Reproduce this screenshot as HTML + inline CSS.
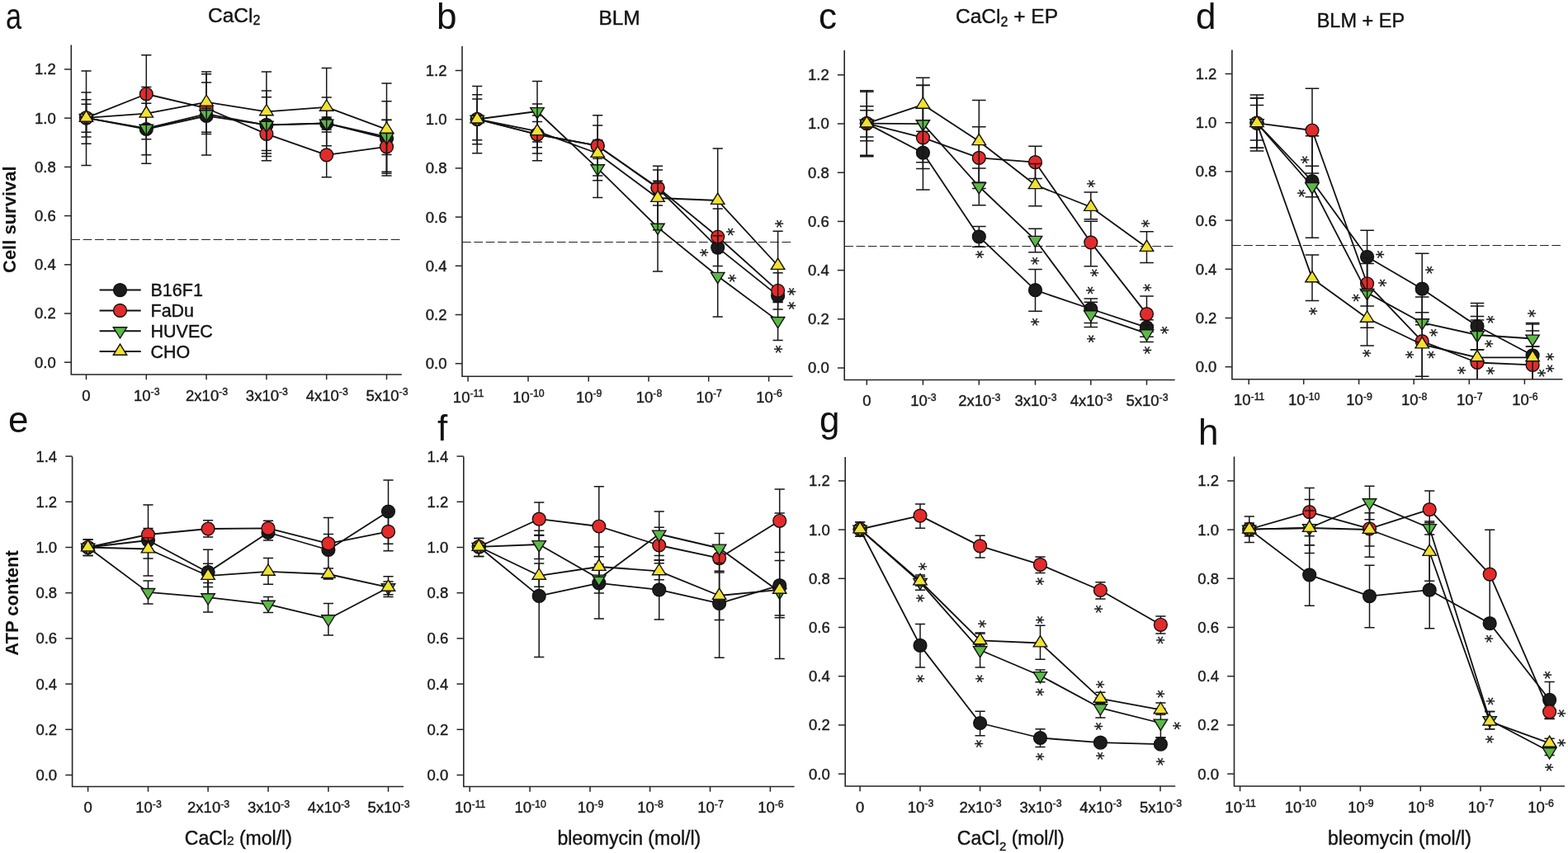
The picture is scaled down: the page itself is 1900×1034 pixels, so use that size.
<!DOCTYPE html><html><head><meta charset="utf-8"><style>html,body{margin:0;padding:0;background:#fff;}svg{display:block;}text.t{stroke:#1a1a1a;stroke-width:0.4px;}</style></head><body>
<svg width="1900" height="1034" viewBox="0 0 1900 1034" font-family="'Liberation Sans', Arial, Helvetica, sans-serif">
<rect width="1900" height="1034" fill="#fff"/>
<text transform="translate(7.1 34.5) scale(0.78 1)" font-size="44" fill="#111">a</text>
<text x="252" y="27" font-size="24.5" fill="#111" class="t">CaCl<tspan font-size="16" dy="2.6">2</tspan></text>
<path d="M86.3 54.5V454H486.8" stroke="#262626" stroke-width="1.6" fill="none"/>
<path d="M78 439.2H86.3" stroke="#262626" stroke-width="1.5"/>
<text x="67.8" y="445.6" font-size="18.5" text-anchor="end" fill="#1a1a1a" class="t">0.0</text>
<path d="M78 380H86.3" stroke="#262626" stroke-width="1.5"/>
<text x="67.8" y="386.4" font-size="18.5" text-anchor="end" fill="#1a1a1a" class="t">0.2</text>
<path d="M78 320.8H86.3" stroke="#262626" stroke-width="1.5"/>
<text x="67.8" y="327.2" font-size="18.5" text-anchor="end" fill="#1a1a1a" class="t">0.4</text>
<path d="M78 261.6H86.3" stroke="#262626" stroke-width="1.5"/>
<text x="67.8" y="268" font-size="18.5" text-anchor="end" fill="#1a1a1a" class="t">0.6</text>
<path d="M78 202.4H86.3" stroke="#262626" stroke-width="1.5"/>
<text x="67.8" y="208.8" font-size="18.5" text-anchor="end" fill="#1a1a1a" class="t">0.8</text>
<path d="M78 143.2H86.3" stroke="#262626" stroke-width="1.5"/>
<text x="67.8" y="149.6" font-size="18.5" text-anchor="end" fill="#1a1a1a" class="t">1.0</text>
<path d="M78 84H86.3" stroke="#262626" stroke-width="1.5"/>
<text x="67.8" y="90.4" font-size="18.5" text-anchor="end" fill="#1a1a1a" class="t">1.2</text>
<path d="M104.5 454V460.2" stroke="#262626" stroke-width="1.5"/>
<text x="104.5" y="485.5" font-size="18.5" text-anchor="middle" fill="#1a1a1a" class="t">0</text>
<path d="M177.3 454V460.2" stroke="#262626" stroke-width="1.5"/>
<text x="177.8" y="485.5" font-size="18.5" text-anchor="middle" fill="#1a1a1a" class="t">10<tspan font-size="12.3" dy="-6.4">-3</tspan></text>
<path d="M250.1 454V460.2" stroke="#262626" stroke-width="1.5"/>
<text x="250.6" y="485.5" font-size="18.5" text-anchor="middle" fill="#1a1a1a" class="t">2x10<tspan font-size="12.3" dy="-6.4">-3</tspan></text>
<path d="M322.9 454V460.2" stroke="#262626" stroke-width="1.5"/>
<text x="323.4" y="485.5" font-size="18.5" text-anchor="middle" fill="#1a1a1a" class="t">3x10<tspan font-size="12.3" dy="-6.4">-3</tspan></text>
<path d="M395.7 454V460.2" stroke="#262626" stroke-width="1.5"/>
<text x="396.2" y="485.5" font-size="18.5" text-anchor="middle" fill="#1a1a1a" class="t">4x10<tspan font-size="12.3" dy="-6.4">-3</tspan></text>
<path d="M468.5 454V460.2" stroke="#262626" stroke-width="1.5"/>
<text x="469" y="485.5" font-size="18.5" text-anchor="middle" fill="#1a1a1a" class="t">5x10<tspan font-size="12.3" dy="-6.4">-3</tspan></text>
<path d="M86.3 290.5H486.8" stroke="#222" stroke-width="1.2" stroke-dasharray="10.7 3.65"/>
<clipPath id="clip0"><rect x="86.3" y="0" width="420.5" height="454"/></clipPath>
<g clip-path="url(#clip0)">
<path d="M104.5 86V200.4M98.4 86H110.6M98.4 200.4H110.6" stroke="#161616" stroke-width="1.5" fill="none"/>
<path d="M177.3 114.8V198.2M171.2 114.8H183.4M171.2 198.2H183.4" stroke="#161616" stroke-width="1.5" fill="none"/>
<path d="M250.1 89.7V188M244 89.7H256.2M244 188H256.2" stroke="#161616" stroke-width="1.5" fill="none"/>
<path d="M322.9 117.7V186.1M316.8 117.7H329M316.8 186.1H329" stroke="#161616" stroke-width="1.5" fill="none"/>
<path d="M395.7 142V157M389.6 142H401.8M389.6 157H401.8" stroke="#161616" stroke-width="1.5" fill="none"/>
<path d="M468.5 122.7V213M462.4 122.7H474.6M462.4 213H474.6" stroke="#161616" stroke-width="1.5" fill="none"/>
<path d="M104.5 142.8 L177.3 156.5 L250.1 140.5 L322.9 151.3 L395.7 149.5 L468.5 168" stroke="#111" stroke-width="1.8" fill="none" stroke-linejoin="round"/>
<circle cx="104.5" cy="142.8" r="7.9" fill="#1c1c1c" stroke="#111" stroke-width="1.4"/>
<circle cx="177.3" cy="156.5" r="7.9" fill="#1c1c1c" stroke="#111" stroke-width="1.4"/>
<circle cx="250.1" cy="140.5" r="7.9" fill="#1c1c1c" stroke="#111" stroke-width="1.4"/>
<circle cx="322.9" cy="151.3" r="7.9" fill="#1c1c1c" stroke="#111" stroke-width="1.4"/>
<circle cx="395.7" cy="149.5" r="7.9" fill="#1c1c1c" stroke="#111" stroke-width="1.4"/>
<circle cx="468.5" cy="168" r="7.9" fill="#1c1c1c" stroke="#111" stroke-width="1.4"/>
<path d="M104.5 111.9V174.2M98.4 111.9H110.6M98.4 174.2H110.6" stroke="#161616" stroke-width="1.5" fill="none"/>
<path d="M177.3 66.7V161.3M171.2 66.7H183.4M171.2 161.3H183.4" stroke="#161616" stroke-width="1.5" fill="none"/>
<path d="M250.1 100V162.6M244 100H256.2M244 162.6H256.2" stroke="#161616" stroke-width="1.5" fill="none"/>
<path d="M322.9 135V189.6M316.8 135H329M316.8 189.6H329" stroke="#161616" stroke-width="1.5" fill="none"/>
<path d="M395.7 160.1V214.8M389.6 160.1H401.8M389.6 214.8H401.8" stroke="#161616" stroke-width="1.5" fill="none"/>
<path d="M468.5 145.5V210.3M462.4 145.5H474.6M462.4 210.3H474.6" stroke="#161616" stroke-width="1.5" fill="none"/>
<path d="M104.5 142.8 L177.3 114 L250.1 131.2 L322.9 162.3 L395.7 187.9 L468.5 177.9" stroke="#111" stroke-width="1.8" fill="none" stroke-linejoin="round"/>
<circle cx="104.5" cy="142.8" r="7.9" fill="#e32b2b" stroke="#111" stroke-width="1.4"/>
<circle cx="177.3" cy="114" r="7.9" fill="#e32b2b" stroke="#111" stroke-width="1.4"/>
<circle cx="250.1" cy="131.2" r="7.9" fill="#e32b2b" stroke="#111" stroke-width="1.4"/>
<circle cx="322.9" cy="162.3" r="7.9" fill="#e32b2b" stroke="#111" stroke-width="1.4"/>
<circle cx="395.7" cy="187.9" r="7.9" fill="#e32b2b" stroke="#111" stroke-width="1.4"/>
<circle cx="468.5" cy="177.9" r="7.9" fill="#e32b2b" stroke="#111" stroke-width="1.4"/>
<path d="M104.5 120.7V166M98.4 120.7H110.6M98.4 166H110.6" stroke="#161616" stroke-width="1.5" fill="none"/>
<path d="M177.3 125.3V187.7M171.2 125.3H183.4M171.2 187.7H183.4" stroke="#161616" stroke-width="1.5" fill="none"/>
<path d="M250.1 131.2V145.2M244 131.2H256.2M244 145.2H256.2" stroke="#161616" stroke-width="1.5" fill="none"/>
<path d="M322.9 109.9V194.8M316.8 109.9H329M316.8 194.8H329" stroke="#161616" stroke-width="1.5" fill="none"/>
<path d="M395.7 118V150M389.6 118H401.8M389.6 150H401.8" stroke="#161616" stroke-width="1.5" fill="none"/>
<path d="M468.5 145.3V187.6M462.4 145.3H474.6M462.4 187.6H474.6" stroke="#161616" stroke-width="1.5" fill="none"/>
<path d="M104.5 142.8 L177.3 155.7 L250.1 138.2 L322.9 151.6 L395.7 149.5 L468.5 166" stroke="#111" stroke-width="1.8" fill="none" stroke-linejoin="round"/>
<polygon points="96.3,138.4 112.7,138.4 104.5,151.6" fill="#5cb946" stroke="#111" stroke-width="1.4" stroke-linejoin="miter"/>
<polygon points="169.1,151.3 185.5,151.3 177.3,164.5" fill="#5cb946" stroke="#111" stroke-width="1.4" stroke-linejoin="miter"/>
<polygon points="241.9,133.8 258.3,133.8 250.1,147" fill="#5cb946" stroke="#111" stroke-width="1.4" stroke-linejoin="miter"/>
<polygon points="314.7,147.2 331.1,147.2 322.9,160.4" fill="#5cb946" stroke="#111" stroke-width="1.4" stroke-linejoin="miter"/>
<polygon points="387.5,145.1 403.9,145.1 395.7,158.3" fill="#5cb946" stroke="#111" stroke-width="1.4" stroke-linejoin="miter"/>
<polygon points="460.3,161.6 476.7,161.6 468.5,174.8" fill="#5cb946" stroke="#111" stroke-width="1.4" stroke-linejoin="miter"/>
<path d="M104.5 126.3V160.3M98.4 126.3H110.6M98.4 160.3H110.6" stroke="#161616" stroke-width="1.5" fill="none"/>
<path d="M177.3 105.6V168.8M171.2 105.6H183.4M171.2 168.8H183.4" stroke="#161616" stroke-width="1.5" fill="none"/>
<path d="M250.1 87.1V160.2M244 87.1H256.2M244 160.2H256.2" stroke="#161616" stroke-width="1.5" fill="none"/>
<path d="M322.9 87V182.6M316.8 87H329M316.8 182.6H329" stroke="#161616" stroke-width="1.5" fill="none"/>
<path d="M395.7 82.4V176.8M389.6 82.4H401.8M389.6 176.8H401.8" stroke="#161616" stroke-width="1.5" fill="none"/>
<path d="M468.5 101V208.3M462.4 101H474.6M462.4 208.3H474.6" stroke="#161616" stroke-width="1.5" fill="none"/>
<path d="M104.5 142.8 L177.3 137.7 L250.1 123.8 L322.9 135.3 L395.7 129.8 L468.5 156.8" stroke="#111" stroke-width="1.8" fill="none" stroke-linejoin="round"/>
<polygon points="96.3,147.2 112.7,147.2 104.5,134" fill="#f2e22f" stroke="#111" stroke-width="1.4" stroke-linejoin="miter"/>
<polygon points="169.1,142.1 185.5,142.1 177.3,128.9" fill="#f2e22f" stroke="#111" stroke-width="1.4" stroke-linejoin="miter"/>
<polygon points="241.9,128.2 258.3,128.2 250.1,115" fill="#f2e22f" stroke="#111" stroke-width="1.4" stroke-linejoin="miter"/>
<polygon points="314.7,139.7 331.1,139.7 322.9,126.5" fill="#f2e22f" stroke="#111" stroke-width="1.4" stroke-linejoin="miter"/>
<polygon points="387.5,134.2 403.9,134.2 395.7,121" fill="#f2e22f" stroke="#111" stroke-width="1.4" stroke-linejoin="miter"/>
<polygon points="460.3,161.2 476.7,161.2 468.5,148" fill="#f2e22f" stroke="#111" stroke-width="1.4" stroke-linejoin="miter"/>
</g>
<text x="529" y="34.5" font-size="44" fill="#111">b</text>
<text x="725.4" y="29.6" font-size="24.5" fill="#111" class="t">BLM</text>
<path d="M560 56V456.3H960.5" stroke="#262626" stroke-width="1.6" fill="none"/>
<path d="M551.7 440.7H560" stroke="#262626" stroke-width="1.5"/>
<text x="541.5" y="447.1" font-size="18.5" text-anchor="end" fill="#1a1a1a" class="t">0.0</text>
<path d="M551.7 381.5H560" stroke="#262626" stroke-width="1.5"/>
<text x="541.5" y="387.9" font-size="18.5" text-anchor="end" fill="#1a1a1a" class="t">0.2</text>
<path d="M551.7 322.3H560" stroke="#262626" stroke-width="1.5"/>
<text x="541.5" y="328.7" font-size="18.5" text-anchor="end" fill="#1a1a1a" class="t">0.4</text>
<path d="M551.7 263.1H560" stroke="#262626" stroke-width="1.5"/>
<text x="541.5" y="269.5" font-size="18.5" text-anchor="end" fill="#1a1a1a" class="t">0.6</text>
<path d="M551.7 203.9H560" stroke="#262626" stroke-width="1.5"/>
<text x="541.5" y="210.3" font-size="18.5" text-anchor="end" fill="#1a1a1a" class="t">0.8</text>
<path d="M551.7 144.7H560" stroke="#262626" stroke-width="1.5"/>
<text x="541.5" y="151.1" font-size="18.5" text-anchor="end" fill="#1a1a1a" class="t">1.0</text>
<path d="M551.7 85.5H560" stroke="#262626" stroke-width="1.5"/>
<text x="541.5" y="91.9" font-size="18.5" text-anchor="end" fill="#1a1a1a" class="t">1.2</text>
<path d="M567.1 456.3V462.5" stroke="#262626" stroke-width="1.5"/>
<text x="567.6" y="487.8" font-size="18.5" text-anchor="middle" fill="#1a1a1a" class="t">10<tspan font-size="12.3" dy="-6.4">-11</tspan></text>
<path d="M640 456.3V462.5" stroke="#262626" stroke-width="1.5"/>
<text x="640.5" y="487.8" font-size="18.5" text-anchor="middle" fill="#1a1a1a" class="t">10<tspan font-size="12.3" dy="-6.4">-10</tspan></text>
<path d="M713.2 456.3V462.5" stroke="#262626" stroke-width="1.5"/>
<text x="713.7" y="487.8" font-size="18.5" text-anchor="middle" fill="#1a1a1a" class="t">10<tspan font-size="12.3" dy="-6.4">-9</tspan></text>
<path d="M786 456.3V462.5" stroke="#262626" stroke-width="1.5"/>
<text x="786.5" y="487.8" font-size="18.5" text-anchor="middle" fill="#1a1a1a" class="t">10<tspan font-size="12.3" dy="-6.4">-8</tspan></text>
<path d="M858.7 456.3V462.5" stroke="#262626" stroke-width="1.5"/>
<text x="859.2" y="487.8" font-size="18.5" text-anchor="middle" fill="#1a1a1a" class="t">10<tspan font-size="12.3" dy="-6.4">-7</tspan></text>
<path d="M931.6 456.3V462.5" stroke="#262626" stroke-width="1.5"/>
<text x="932.1" y="487.8" font-size="18.5" text-anchor="middle" fill="#1a1a1a" class="t">10<tspan font-size="12.3" dy="-6.4">-6</tspan></text>
<path d="M560 293.5H960.5" stroke="#222" stroke-width="1.2" stroke-dasharray="10.7 3.65"/>
<clipPath id="clip1"><rect x="560" y="0" width="420.5" height="456.3"/></clipPath>
<g clip-path="url(#clip1)">
<path d="M578.2 104.4V185.7M572.1 104.4H584.3M572.1 185.7H584.3" stroke="#161616" stroke-width="1.5" fill="none"/>
<path d="M651 147.6V178.7M644.9 147.6H657.1M644.9 178.7H657.1" stroke="#161616" stroke-width="1.5" fill="none"/>
<path d="M724.2 139.8V213.1M718.1 139.8H730.3M718.1 213.1H730.3" stroke="#161616" stroke-width="1.5" fill="none"/>
<path d="M797 206V249M790.9 206H803.1M790.9 249H803.1" stroke="#161616" stroke-width="1.5" fill="none"/>
<path d="M869.7 295V305M863.6 295H875.8M863.6 305H875.8" stroke="#161616" stroke-width="1.5" fill="none"/>
<path d="M942.6 352V366M936.5 352H948.7M936.5 366H948.7" stroke="#161616" stroke-width="1.5" fill="none"/>
<path d="M578.2 144.5 L651 162.8 L724.2 176.7 L797 228 L869.7 300.1 L942.6 358.4" stroke="#111" stroke-width="1.8" fill="none" stroke-linejoin="round"/>
<circle cx="578.2" cy="144.5" r="7.9" fill="#1c1c1c" stroke="#111" stroke-width="1.4"/>
<circle cx="651" cy="162.8" r="7.9" fill="#1c1c1c" stroke="#111" stroke-width="1.4"/>
<circle cx="724.2" cy="176.7" r="7.9" fill="#1c1c1c" stroke="#111" stroke-width="1.4"/>
<circle cx="797" cy="228" r="7.9" fill="#1c1c1c" stroke="#111" stroke-width="1.4"/>
<circle cx="869.7" cy="300.1" r="7.9" fill="#1c1c1c" stroke="#111" stroke-width="1.4"/>
<circle cx="942.6" cy="358.4" r="7.9" fill="#1c1c1c" stroke="#111" stroke-width="1.4"/>
<path d="M578.2 114.8V174.7M572.1 114.8H584.3M572.1 174.7H584.3" stroke="#161616" stroke-width="1.5" fill="none"/>
<path d="M651 140V186M644.9 140H657.1M644.9 186H657.1" stroke="#161616" stroke-width="1.5" fill="none"/>
<path d="M724.2 172V192.2M718.1 172H730.3M718.1 192.2H730.3" stroke="#161616" stroke-width="1.5" fill="none"/>
<path d="M797 219.3V235.3M790.9 219.3H803.1M790.9 235.3H803.1" stroke="#161616" stroke-width="1.5" fill="none"/>
<path d="M869.7 252.9V322.4M863.6 252.9H875.8M863.6 322.4H875.8" stroke="#161616" stroke-width="1.5" fill="none"/>
<path d="M942.6 330.8V375M936.5 330.8H948.7M936.5 375H948.7" stroke="#161616" stroke-width="1.5" fill="none"/>
<path d="M578.2 144.5 L651 163 L724.2 176.7 L797 227.3 L869.7 287 L942.6 352.3" stroke="#111" stroke-width="1.8" fill="none" stroke-linejoin="round"/>
<circle cx="578.2" cy="144.5" r="7.9" fill="#e32b2b" stroke="#111" stroke-width="1.4"/>
<circle cx="651" cy="163" r="7.9" fill="#e32b2b" stroke="#111" stroke-width="1.4"/>
<circle cx="724.2" cy="176.7" r="7.9" fill="#e32b2b" stroke="#111" stroke-width="1.4"/>
<circle cx="797" cy="227.3" r="7.9" fill="#e32b2b" stroke="#111" stroke-width="1.4"/>
<circle cx="869.7" cy="287" r="7.9" fill="#e32b2b" stroke="#111" stroke-width="1.4"/>
<circle cx="942.6" cy="352.3" r="7.9" fill="#e32b2b" stroke="#111" stroke-width="1.4"/>
<path d="M578.2 119.9V169.7M572.1 119.9H584.3M572.1 169.7H584.3" stroke="#161616" stroke-width="1.5" fill="none"/>
<path d="M651 98.5V172M644.9 98.5H657.1M644.9 172H657.1" stroke="#161616" stroke-width="1.5" fill="none"/>
<path d="M724.2 169.7V239.4M718.1 169.7H730.3M718.1 239.4H730.3" stroke="#161616" stroke-width="1.5" fill="none"/>
<path d="M797 222V329M790.9 222H803.1M790.9 329H803.1" stroke="#161616" stroke-width="1.5" fill="none"/>
<path d="M869.7 285.8V384.1M863.6 285.8H875.8M863.6 384.1H875.8" stroke="#161616" stroke-width="1.5" fill="none"/>
<path d="M942.6 366.5V412.5M936.5 366.5H948.7M936.5 412.5H948.7" stroke="#161616" stroke-width="1.5" fill="none"/>
<path d="M578.2 144.5 L651 135 L724.2 204.2 L797 275.6 L869.7 334.8 L942.6 388.9" stroke="#111" stroke-width="1.8" fill="none" stroke-linejoin="round"/>
<polygon points="570,140.1 586.4,140.1 578.2,153.3" fill="#5cb946" stroke="#111" stroke-width="1.4" stroke-linejoin="miter"/>
<polygon points="642.8,130.6 659.2,130.6 651,143.8" fill="#5cb946" stroke="#111" stroke-width="1.4" stroke-linejoin="miter"/>
<polygon points="716,199.8 732.4,199.8 724.2,213" fill="#5cb946" stroke="#111" stroke-width="1.4" stroke-linejoin="miter"/>
<polygon points="788.8,271.2 805.2,271.2 797,284.4" fill="#5cb946" stroke="#111" stroke-width="1.4" stroke-linejoin="miter"/>
<polygon points="861.5,330.4 877.9,330.4 869.7,343.6" fill="#5cb946" stroke="#111" stroke-width="1.4" stroke-linejoin="miter"/>
<polygon points="934.4,384.5 950.8,384.5 942.6,397.7" fill="#5cb946" stroke="#111" stroke-width="1.4" stroke-linejoin="miter"/>
<path d="M578.2 140V149M572.1 140H584.3M572.1 149H584.3" stroke="#161616" stroke-width="1.5" fill="none"/>
<path d="M651 126.1V194.8M644.9 126.1H657.1M644.9 194.8H657.1" stroke="#161616" stroke-width="1.5" fill="none"/>
<path d="M724.2 151.9V218.8M718.1 151.9H730.3M718.1 218.8H730.3" stroke="#161616" stroke-width="1.5" fill="none"/>
<path d="M797 201.3V278.7M790.9 201.3H803.1M790.9 278.7H803.1" stroke="#161616" stroke-width="1.5" fill="none"/>
<path d="M869.7 180.1V305.9M863.6 180.1H875.8M863.6 305.9H875.8" stroke="#161616" stroke-width="1.5" fill="none"/>
<path d="M942.6 280.3V363.7M936.5 280.3H948.7M936.5 363.7H948.7" stroke="#161616" stroke-width="1.5" fill="none"/>
<path d="M578.2 144.5 L651 159.2 L724.2 186 L797 240 L869.7 243 L942.6 322" stroke="#111" stroke-width="1.8" fill="none" stroke-linejoin="round"/>
<polygon points="570,148.9 586.4,148.9 578.2,135.7" fill="#f2e22f" stroke="#111" stroke-width="1.4" stroke-linejoin="miter"/>
<polygon points="642.8,163.6 659.2,163.6 651,150.4" fill="#f2e22f" stroke="#111" stroke-width="1.4" stroke-linejoin="miter"/>
<polygon points="716,190.4 732.4,190.4 724.2,177.2" fill="#f2e22f" stroke="#111" stroke-width="1.4" stroke-linejoin="miter"/>
<polygon points="788.8,244.4 805.2,244.4 797,231.2" fill="#f2e22f" stroke="#111" stroke-width="1.4" stroke-linejoin="miter"/>
<polygon points="861.5,247.4 877.9,247.4 869.7,234.2" fill="#f2e22f" stroke="#111" stroke-width="1.4" stroke-linejoin="miter"/>
<polygon points="934.4,326.4 950.8,326.4 942.6,313.2" fill="#f2e22f" stroke="#111" stroke-width="1.4" stroke-linejoin="miter"/>
</g>
<text transform="translate(885 281) scale(1.1 0.96) rotate(90)" y="10.25" font-size="20" font-family="DejaVu Sans" text-anchor="middle" fill="#1a1a1a" stroke="#1a1a1a" stroke-width="0.35">*</text>
<text transform="translate(853.3 306.2) scale(1.1 0.96) rotate(90)" y="10.25" font-size="20" font-family="DejaVu Sans" text-anchor="middle" fill="#1a1a1a" stroke="#1a1a1a" stroke-width="0.35">*</text>
<text transform="translate(887.4 337.4) scale(1.1 0.96) rotate(90)" y="10.25" font-size="20" font-family="DejaVu Sans" text-anchor="middle" fill="#1a1a1a" stroke="#1a1a1a" stroke-width="0.35">*</text>
<text transform="translate(944.1 271.4) scale(1.1 0.96) rotate(90)" y="10.25" font-size="20" font-family="DejaVu Sans" text-anchor="middle" fill="#1a1a1a" stroke="#1a1a1a" stroke-width="0.35">*</text>
<text transform="translate(959.2 353.6) scale(1.1 0.96) rotate(90)" y="10.25" font-size="20" font-family="DejaVu Sans" text-anchor="middle" fill="#1a1a1a" stroke="#1a1a1a" stroke-width="0.35">*</text>
<text transform="translate(959.2 370.6) scale(1.1 0.96) rotate(90)" y="10.25" font-size="20" font-family="DejaVu Sans" text-anchor="middle" fill="#1a1a1a" stroke="#1a1a1a" stroke-width="0.35">*</text>
<text transform="translate(943.6 423.4) scale(1.1 0.96) rotate(90)" y="10.25" font-size="20" font-family="DejaVu Sans" text-anchor="middle" fill="#1a1a1a" stroke="#1a1a1a" stroke-width="0.35">*</text>
<text x="992" y="34.5" font-size="44" fill="#111">c</text>
<text x="1158" y="27.6" font-size="24.5" fill="#111" class="t">CaCl<tspan font-size="16" dy="4">2</tspan><tspan dy="-4"> + EP</tspan></text>
<path d="M1023.2 61V460.5H1423.7" stroke="#262626" stroke-width="1.6" fill="none"/>
<path d="M1014.9 446H1023.2" stroke="#262626" stroke-width="1.5"/>
<text x="1004.7" y="452.4" font-size="18.5" text-anchor="end" fill="#1a1a1a" class="t">0.0</text>
<path d="M1014.9 386.8H1023.2" stroke="#262626" stroke-width="1.5"/>
<text x="1004.7" y="393.2" font-size="18.5" text-anchor="end" fill="#1a1a1a" class="t">0.2</text>
<path d="M1014.9 327.6H1023.2" stroke="#262626" stroke-width="1.5"/>
<text x="1004.7" y="334" font-size="18.5" text-anchor="end" fill="#1a1a1a" class="t">0.4</text>
<path d="M1014.9 268.4H1023.2" stroke="#262626" stroke-width="1.5"/>
<text x="1004.7" y="274.8" font-size="18.5" text-anchor="end" fill="#1a1a1a" class="t">0.6</text>
<path d="M1014.9 209.2H1023.2" stroke="#262626" stroke-width="1.5"/>
<text x="1004.7" y="215.6" font-size="18.5" text-anchor="end" fill="#1a1a1a" class="t">0.8</text>
<path d="M1014.9 150H1023.2" stroke="#262626" stroke-width="1.5"/>
<text x="1004.7" y="156.4" font-size="18.5" text-anchor="end" fill="#1a1a1a" class="t">1.0</text>
<path d="M1014.9 90.8H1023.2" stroke="#262626" stroke-width="1.5"/>
<text x="1004.7" y="97.2" font-size="18.5" text-anchor="end" fill="#1a1a1a" class="t">1.2</text>
<path d="M1050.3 460.5V466.7" stroke="#262626" stroke-width="1.5"/>
<text x="1050.3" y="492" font-size="18.5" text-anchor="middle" fill="#1a1a1a" class="t">0</text>
<path d="M1118.4 460.5V466.7" stroke="#262626" stroke-width="1.5"/>
<text x="1118.9" y="492" font-size="18.5" text-anchor="middle" fill="#1a1a1a" class="t">10<tspan font-size="12.3" dy="-6.4">-3</tspan></text>
<path d="M1186.3 460.5V466.7" stroke="#262626" stroke-width="1.5"/>
<text x="1186.8" y="492" font-size="18.5" text-anchor="middle" fill="#1a1a1a" class="t">2x10<tspan font-size="12.3" dy="-6.4">-3</tspan></text>
<path d="M1254.5 460.5V466.7" stroke="#262626" stroke-width="1.5"/>
<text x="1255" y="492" font-size="18.5" text-anchor="middle" fill="#1a1a1a" class="t">3x10<tspan font-size="12.3" dy="-6.4">-3</tspan></text>
<path d="M1321.8 460.5V466.7" stroke="#262626" stroke-width="1.5"/>
<text x="1322.3" y="492" font-size="18.5" text-anchor="middle" fill="#1a1a1a" class="t">4x10<tspan font-size="12.3" dy="-6.4">-3</tspan></text>
<path d="M1389.5 460.5V466.7" stroke="#262626" stroke-width="1.5"/>
<text x="1390" y="492" font-size="18.5" text-anchor="middle" fill="#1a1a1a" class="t">5x10<tspan font-size="12.3" dy="-6.4">-3</tspan></text>
<path d="M1023.2 298.5H1423.7" stroke="#222" stroke-width="1.2" stroke-dasharray="10.7 3.65"/>
<clipPath id="clip2"><rect x="1023.2" y="0" width="420.5" height="460.5"/></clipPath>
<g clip-path="url(#clip2)">
<path d="M1050.3 109.8V189.8M1042 109.8H1058.6M1042 189.8H1058.6" stroke="#161616" stroke-width="1.5" fill="none"/>
<path d="M1118.4 165.8V204.6M1110.1 165.8H1126.7M1110.1 204.6H1126.7" stroke="#161616" stroke-width="1.5" fill="none"/>
<path d="M1186.3 274.6V299.3M1178 274.6H1194.6M1178 299.3H1194.6" stroke="#161616" stroke-width="1.5" fill="none"/>
<path d="M1254.5 326.4V377.2M1246.2 326.4H1262.8M1246.2 377.2H1262.8" stroke="#161616" stroke-width="1.5" fill="none"/>
<path d="M1321.8 362V391.4M1313.5 362H1330.1M1313.5 391.4H1330.1" stroke="#161616" stroke-width="1.5" fill="none"/>
<path d="M1389.5 387.7V408.3M1381.2 387.7H1397.8M1381.2 408.3H1397.8" stroke="#161616" stroke-width="1.5" fill="none"/>
<path d="M1050.3 149.6 L1118.4 185.2 L1186.3 286.9 L1254.5 351.7 L1321.8 374.5 L1389.5 396.8" stroke="#111" stroke-width="1.8" fill="none" stroke-linejoin="round"/>
<circle cx="1050.3" cy="149.6" r="7.9" fill="#1c1c1c" stroke="#111" stroke-width="1.4"/>
<circle cx="1118.4" cy="185.2" r="7.9" fill="#1c1c1c" stroke="#111" stroke-width="1.4"/>
<circle cx="1186.3" cy="286.9" r="7.9" fill="#1c1c1c" stroke="#111" stroke-width="1.4"/>
<circle cx="1254.5" cy="351.7" r="7.9" fill="#1c1c1c" stroke="#111" stroke-width="1.4"/>
<circle cx="1321.8" cy="374.5" r="7.9" fill="#1c1c1c" stroke="#111" stroke-width="1.4"/>
<circle cx="1389.5" cy="396.8" r="7.9" fill="#1c1c1c" stroke="#111" stroke-width="1.4"/>
<path d="M1050.3 111.3V188.3M1042 111.3H1058.6M1042 188.3H1058.6" stroke="#161616" stroke-width="1.5" fill="none"/>
<path d="M1118.4 103.5V230.1M1110.1 103.5H1126.7M1110.1 230.1H1126.7" stroke="#161616" stroke-width="1.5" fill="none"/>
<path d="M1186.3 153.8V228.5M1178 153.8H1194.6M1178 228.5H1194.6" stroke="#161616" stroke-width="1.5" fill="none"/>
<path d="M1254.5 177.3V216.5M1246.2 177.3H1262.8M1246.2 216.5H1262.8" stroke="#161616" stroke-width="1.5" fill="none"/>
<path d="M1321.8 268.2V322.7M1313.5 268.2H1330.1M1313.5 322.7H1330.1" stroke="#161616" stroke-width="1.5" fill="none"/>
<path d="M1389.5 358.9V402.3M1381.2 358.9H1397.8M1381.2 402.3H1397.8" stroke="#161616" stroke-width="1.5" fill="none"/>
<path d="M1050.3 149.6 L1118.4 166.9 L1186.3 191.4 L1254.5 196.7 L1321.8 293.9 L1389.5 380.6" stroke="#111" stroke-width="1.8" fill="none" stroke-linejoin="round"/>
<circle cx="1050.3" cy="149.6" r="7.9" fill="#e32b2b" stroke="#111" stroke-width="1.4"/>
<circle cx="1118.4" cy="166.9" r="7.9" fill="#e32b2b" stroke="#111" stroke-width="1.4"/>
<circle cx="1186.3" cy="191.4" r="7.9" fill="#e32b2b" stroke="#111" stroke-width="1.4"/>
<circle cx="1254.5" cy="196.7" r="7.9" fill="#e32b2b" stroke="#111" stroke-width="1.4"/>
<circle cx="1321.8" cy="293.9" r="7.9" fill="#e32b2b" stroke="#111" stroke-width="1.4"/>
<circle cx="1389.5" cy="380.6" r="7.9" fill="#e32b2b" stroke="#111" stroke-width="1.4"/>
<path d="M1050.3 128.7V170.8M1042 128.7H1058.6M1042 170.8H1058.6" stroke="#161616" stroke-width="1.5" fill="none"/>
<path d="M1118.4 103.2V196.8M1110.1 103.2H1126.7M1110.1 196.8H1126.7" stroke="#161616" stroke-width="1.5" fill="none"/>
<path d="M1186.3 204.1V248.7M1178 204.1H1194.6M1178 248.7H1194.6" stroke="#161616" stroke-width="1.5" fill="none"/>
<path d="M1254.5 277.2V305.7M1246.2 277.2H1262.8M1246.2 305.7H1262.8" stroke="#161616" stroke-width="1.5" fill="none"/>
<path d="M1321.8 366.3V396.4M1313.5 366.3H1330.1M1313.5 396.4H1330.1" stroke="#161616" stroke-width="1.5" fill="none"/>
<path d="M1389.5 394V414.4M1381.2 394H1397.8M1381.2 414.4H1397.8" stroke="#161616" stroke-width="1.5" fill="none"/>
<path d="M1050.3 149.6 L1118.4 150.1 L1186.3 226 L1254.5 290.8 L1321.8 381.2 L1389.5 404.2" stroke="#111" stroke-width="1.8" fill="none" stroke-linejoin="round"/>
<polygon points="1042.1,145.2 1058.5,145.2 1050.3,158.4" fill="#5cb946" stroke="#111" stroke-width="1.4" stroke-linejoin="miter"/>
<polygon points="1110.2,145.7 1126.6,145.7 1118.4,158.9" fill="#5cb946" stroke="#111" stroke-width="1.4" stroke-linejoin="miter"/>
<polygon points="1178.1,221.6 1194.5,221.6 1186.3,234.8" fill="#5cb946" stroke="#111" stroke-width="1.4" stroke-linejoin="miter"/>
<polygon points="1246.3,286.4 1262.7,286.4 1254.5,299.6" fill="#5cb946" stroke="#111" stroke-width="1.4" stroke-linejoin="miter"/>
<polygon points="1313.6,376.8 1330,376.8 1321.8,390" fill="#5cb946" stroke="#111" stroke-width="1.4" stroke-linejoin="miter"/>
<polygon points="1381.3,399.8 1397.7,399.8 1389.5,413" fill="#5cb946" stroke="#111" stroke-width="1.4" stroke-linejoin="miter"/>
<path d="M1050.3 133.8V165.9M1042 133.8H1058.6M1042 165.9H1058.6" stroke="#161616" stroke-width="1.5" fill="none"/>
<path d="M1118.4 94.3V159.3M1110.1 94.3H1126.7M1110.1 159.3H1126.7" stroke="#161616" stroke-width="1.5" fill="none"/>
<path d="M1186.3 121.4V221M1178 121.4H1194.6M1178 221H1194.6" stroke="#161616" stroke-width="1.5" fill="none"/>
<path d="M1254.5 198.6V249.8M1246.2 198.6H1262.8M1246.2 249.8H1262.8" stroke="#161616" stroke-width="1.5" fill="none"/>
<path d="M1321.8 233.1V265.8M1313.5 233.1H1330.1M1313.5 265.8H1330.1" stroke="#161616" stroke-width="1.5" fill="none"/>
<path d="M1389.5 280.8V318.4M1381.2 280.8H1397.8M1381.2 318.4H1397.8" stroke="#161616" stroke-width="1.5" fill="none"/>
<path d="M1050.3 149.6 L1118.4 126.8 L1186.3 171.2 L1254.5 224.2 L1321.8 251 L1389.5 300" stroke="#111" stroke-width="1.8" fill="none" stroke-linejoin="round"/>
<polygon points="1042.1,154 1058.5,154 1050.3,140.8" fill="#f2e22f" stroke="#111" stroke-width="1.4" stroke-linejoin="miter"/>
<polygon points="1110.2,131.2 1126.6,131.2 1118.4,118" fill="#f2e22f" stroke="#111" stroke-width="1.4" stroke-linejoin="miter"/>
<polygon points="1178.1,175.6 1194.5,175.6 1186.3,162.4" fill="#f2e22f" stroke="#111" stroke-width="1.4" stroke-linejoin="miter"/>
<polygon points="1246.3,228.6 1262.7,228.6 1254.5,215.4" fill="#f2e22f" stroke="#111" stroke-width="1.4" stroke-linejoin="miter"/>
<polygon points="1313.6,255.4 1330,255.4 1321.8,242.2" fill="#f2e22f" stroke="#111" stroke-width="1.4" stroke-linejoin="miter"/>
<polygon points="1381.3,304.4 1397.7,304.4 1389.5,291.2" fill="#f2e22f" stroke="#111" stroke-width="1.4" stroke-linejoin="miter"/>
</g>
<text transform="translate(1187.1 308.6) scale(1.1 0.96) rotate(90)" y="10.25" font-size="20" font-family="DejaVu Sans" text-anchor="middle" fill="#1a1a1a" stroke="#1a1a1a" stroke-width="0.35">*</text>
<text transform="translate(1253.9 316.4) scale(1.1 0.96) rotate(90)" y="10.25" font-size="20" font-family="DejaVu Sans" text-anchor="middle" fill="#1a1a1a" stroke="#1a1a1a" stroke-width="0.35">*</text>
<text transform="translate(1254.1 390.3) scale(1.1 0.96) rotate(90)" y="10.25" font-size="20" font-family="DejaVu Sans" text-anchor="middle" fill="#1a1a1a" stroke="#1a1a1a" stroke-width="0.35">*</text>
<text transform="translate(1321.8 222.7) scale(1.1 0.96) rotate(90)" y="10.25" font-size="20" font-family="DejaVu Sans" text-anchor="middle" fill="#1a1a1a" stroke="#1a1a1a" stroke-width="0.35">*</text>
<text transform="translate(1326.6 330.9) scale(1.1 0.96) rotate(90)" y="10.25" font-size="20" font-family="DejaVu Sans" text-anchor="middle" fill="#1a1a1a" stroke="#1a1a1a" stroke-width="0.35">*</text>
<text transform="translate(1321.4 352.1) scale(1.1 0.96) rotate(90)" y="10.25" font-size="20" font-family="DejaVu Sans" text-anchor="middle" fill="#1a1a1a" stroke="#1a1a1a" stroke-width="0.35">*</text>
<text transform="translate(1321.8 410.7) scale(1.1 0.96) rotate(90)" y="10.25" font-size="20" font-family="DejaVu Sans" text-anchor="middle" fill="#1a1a1a" stroke="#1a1a1a" stroke-width="0.35">*</text>
<text transform="translate(1388.2 271) scale(1.1 0.96) rotate(90)" y="10.25" font-size="20" font-family="DejaVu Sans" text-anchor="middle" fill="#1a1a1a" stroke="#1a1a1a" stroke-width="0.35">*</text>
<text transform="translate(1389.9 348.7) scale(1.1 0.96) rotate(90)" y="10.25" font-size="20" font-family="DejaVu Sans" text-anchor="middle" fill="#1a1a1a" stroke="#1a1a1a" stroke-width="0.35">*</text>
<text transform="translate(1410.9 400.2) scale(1.1 0.96) rotate(90)" y="10.25" font-size="20" font-family="DejaVu Sans" text-anchor="middle" fill="#1a1a1a" stroke="#1a1a1a" stroke-width="0.35">*</text>
<text transform="translate(1389.9 424.6) scale(1.1 0.96) rotate(90)" y="10.25" font-size="20" font-family="DejaVu Sans" text-anchor="middle" fill="#1a1a1a" stroke="#1a1a1a" stroke-width="0.35">*</text>
<text x="1449" y="34.5" font-size="44" fill="#111">d</text>
<text x="1595.7" y="32.7" font-size="23.5" fill="#111" class="t">BLM + EP</text>
<path d="M1492.9 60.5V459.7H1893.4" stroke="#262626" stroke-width="1.6" fill="none"/>
<path d="M1484.6 444.7H1492.9" stroke="#262626" stroke-width="1.5"/>
<text x="1474.4" y="451.1" font-size="18.5" text-anchor="end" fill="#1a1a1a" class="t">0.0</text>
<path d="M1484.6 385.5H1492.9" stroke="#262626" stroke-width="1.5"/>
<text x="1474.4" y="391.9" font-size="18.5" text-anchor="end" fill="#1a1a1a" class="t">0.2</text>
<path d="M1484.6 326.3H1492.9" stroke="#262626" stroke-width="1.5"/>
<text x="1474.4" y="332.7" font-size="18.5" text-anchor="end" fill="#1a1a1a" class="t">0.4</text>
<path d="M1484.6 267.1H1492.9" stroke="#262626" stroke-width="1.5"/>
<text x="1474.4" y="273.5" font-size="18.5" text-anchor="end" fill="#1a1a1a" class="t">0.6</text>
<path d="M1484.6 207.9H1492.9" stroke="#262626" stroke-width="1.5"/>
<text x="1474.4" y="214.3" font-size="18.5" text-anchor="end" fill="#1a1a1a" class="t">0.8</text>
<path d="M1484.6 148.7H1492.9" stroke="#262626" stroke-width="1.5"/>
<text x="1474.4" y="155.1" font-size="18.5" text-anchor="end" fill="#1a1a1a" class="t">1.0</text>
<path d="M1484.6 89.5H1492.9" stroke="#262626" stroke-width="1.5"/>
<text x="1474.4" y="95.9" font-size="18.5" text-anchor="end" fill="#1a1a1a" class="t">1.2</text>
<path d="M1513.2 459.7V465.9" stroke="#262626" stroke-width="1.5"/>
<text x="1513.7" y="491.2" font-size="18.5" text-anchor="middle" fill="#1a1a1a" class="t">10<tspan font-size="12.3" dy="-6.4">-11</tspan></text>
<path d="M1579.7 459.7V465.9" stroke="#262626" stroke-width="1.5"/>
<text x="1580.2" y="491.2" font-size="18.5" text-anchor="middle" fill="#1a1a1a" class="t">10<tspan font-size="12.3" dy="-6.4">-10</tspan></text>
<path d="M1646.6 459.7V465.9" stroke="#262626" stroke-width="1.5"/>
<text x="1647.1" y="491.2" font-size="18.5" text-anchor="middle" fill="#1a1a1a" class="t">10<tspan font-size="12.3" dy="-6.4">-9</tspan></text>
<path d="M1713.2 459.7V465.9" stroke="#262626" stroke-width="1.5"/>
<text x="1713.7" y="491.2" font-size="18.5" text-anchor="middle" fill="#1a1a1a" class="t">10<tspan font-size="12.3" dy="-6.4">-8</tspan></text>
<path d="M1780.3 459.7V465.9" stroke="#262626" stroke-width="1.5"/>
<text x="1780.8" y="491.2" font-size="18.5" text-anchor="middle" fill="#1a1a1a" class="t">10<tspan font-size="12.3" dy="-6.4">-7</tspan></text>
<path d="M1847.4 459.7V465.9" stroke="#262626" stroke-width="1.5"/>
<text x="1847.9" y="491.2" font-size="18.5" text-anchor="middle" fill="#1a1a1a" class="t">10<tspan font-size="12.3" dy="-6.4">-6</tspan></text>
<path d="M1492.9 297.5H1893.4" stroke="#222" stroke-width="1.2" stroke-dasharray="10.7 3.65"/>
<clipPath id="clip3"><rect x="1492.9" y="0" width="420.5" height="459.7"/></clipPath>
<g clip-path="url(#clip3)">
<path d="M1523 115V183M1514.7 115H1531.3M1514.7 183H1531.3" stroke="#161616" stroke-width="1.5" fill="none"/>
<path d="M1590 201.3V238.7M1581.7 201.3H1598.3M1581.7 238.7H1598.3" stroke="#161616" stroke-width="1.5" fill="none"/>
<path d="M1656.6 279.2V343.4M1648.3 279.2H1664.9M1648.3 343.4H1664.9" stroke="#161616" stroke-width="1.5" fill="none"/>
<path d="M1723.2 307.2V393.7M1714.9 307.2H1731.5M1714.9 393.7H1731.5" stroke="#161616" stroke-width="1.5" fill="none"/>
<path d="M1790 367.6V423.8M1781.7 367.6H1798.3M1781.7 423.8H1798.3" stroke="#161616" stroke-width="1.5" fill="none"/>
<path d="M1857.1 391.4V466.6M1848.8 391.4H1865.4M1848.8 466.6H1865.4" stroke="#161616" stroke-width="1.5" fill="none"/>
<path d="M1523 149.2 L1590 219.5 L1656.6 311.3 L1723.2 350.2 L1790 395.3 L1857.1 430.8" stroke="#111" stroke-width="1.8" fill="none" stroke-linejoin="round"/>
<circle cx="1523" cy="149.2" r="7.9" fill="#1c1c1c" stroke="#111" stroke-width="1.4"/>
<circle cx="1590" cy="219.5" r="7.9" fill="#1c1c1c" stroke="#111" stroke-width="1.4"/>
<circle cx="1656.6" cy="311.3" r="7.9" fill="#1c1c1c" stroke="#111" stroke-width="1.4"/>
<circle cx="1723.2" cy="350.2" r="7.9" fill="#1c1c1c" stroke="#111" stroke-width="1.4"/>
<circle cx="1790" cy="395.3" r="7.9" fill="#1c1c1c" stroke="#111" stroke-width="1.4"/>
<circle cx="1857.1" cy="430.8" r="7.9" fill="#1c1c1c" stroke="#111" stroke-width="1.4"/>
<path d="M1523 119.1V179.2M1514.7 119.1H1531.3M1514.7 179.2H1531.3" stroke="#161616" stroke-width="1.5" fill="none"/>
<path d="M1590 107.2V210.1M1581.7 107.2H1598.3M1581.7 210.1H1598.3" stroke="#161616" stroke-width="1.5" fill="none"/>
<path d="M1656.6 319.4V371M1648.3 319.4H1664.9M1648.3 371H1664.9" stroke="#161616" stroke-width="1.5" fill="none"/>
<path d="M1723.2 360V467.4M1714.9 360H1731.5M1714.9 467.4H1731.5" stroke="#161616" stroke-width="1.5" fill="none"/>
<path d="M1790 383.4V495.6M1781.7 383.4H1798.3M1781.7 495.6H1798.3" stroke="#161616" stroke-width="1.5" fill="none"/>
<path d="M1857.1 392.9V491.8M1848.8 392.9H1865.4M1848.8 491.8H1865.4" stroke="#161616" stroke-width="1.5" fill="none"/>
<path d="M1523 149.2 L1590 158 L1656.6 343.8 L1723.2 413.7 L1790 439.5 L1857.1 442.4" stroke="#111" stroke-width="1.8" fill="none" stroke-linejoin="round"/>
<circle cx="1523" cy="149.2" r="7.9" fill="#e32b2b" stroke="#111" stroke-width="1.4"/>
<circle cx="1590" cy="158" r="7.9" fill="#e32b2b" stroke="#111" stroke-width="1.4"/>
<circle cx="1656.6" cy="343.8" r="7.9" fill="#e32b2b" stroke="#111" stroke-width="1.4"/>
<circle cx="1723.2" cy="413.7" r="7.9" fill="#e32b2b" stroke="#111" stroke-width="1.4"/>
<circle cx="1790" cy="439.5" r="7.9" fill="#e32b2b" stroke="#111" stroke-width="1.4"/>
<circle cx="1857.1" cy="442.4" r="7.9" fill="#e32b2b" stroke="#111" stroke-width="1.4"/>
<path d="M1523 119.1V179.2M1514.7 119.1H1531.3M1514.7 179.2H1531.3" stroke="#161616" stroke-width="1.5" fill="none"/>
<path d="M1590 164.7V288.2M1581.7 164.7H1598.3M1581.7 288.2H1598.3" stroke="#161616" stroke-width="1.5" fill="none"/>
<path d="M1656.6 312.5V397.3M1648.3 312.5H1664.9M1648.3 397.3H1664.9" stroke="#161616" stroke-width="1.5" fill="none"/>
<path d="M1723.2 387V390M1714.9 387H1731.5M1714.9 390H1731.5" stroke="#161616" stroke-width="1.5" fill="none"/>
<path d="M1790 388V424M1781.7 388H1798.3M1781.7 424H1798.3" stroke="#161616" stroke-width="1.5" fill="none"/>
<path d="M1857.1 401V420M1848.8 401H1865.4M1848.8 420H1865.4" stroke="#161616" stroke-width="1.5" fill="none"/>
<path d="M1523 149.2 L1590 226 L1656.6 354.9 L1723.2 391.2 L1790 406 L1857.1 410.5" stroke="#111" stroke-width="1.8" fill="none" stroke-linejoin="round"/>
<polygon points="1514.8,144.8 1531.2,144.8 1523,158" fill="#5cb946" stroke="#111" stroke-width="1.4" stroke-linejoin="miter"/>
<polygon points="1581.8,221.6 1598.2,221.6 1590,234.8" fill="#5cb946" stroke="#111" stroke-width="1.4" stroke-linejoin="miter"/>
<polygon points="1648.4,350.5 1664.8,350.5 1656.6,363.7" fill="#5cb946" stroke="#111" stroke-width="1.4" stroke-linejoin="miter"/>
<polygon points="1715,386.8 1731.4,386.8 1723.2,400" fill="#5cb946" stroke="#111" stroke-width="1.4" stroke-linejoin="miter"/>
<polygon points="1781.8,401.6 1798.2,401.6 1790,414.8" fill="#5cb946" stroke="#111" stroke-width="1.4" stroke-linejoin="miter"/>
<polygon points="1848.9,406.1 1865.3,406.1 1857.1,419.3" fill="#5cb946" stroke="#111" stroke-width="1.4" stroke-linejoin="miter"/>
<path d="M1523 127.5V170.1M1514.7 127.5H1531.3M1514.7 170.1H1531.3" stroke="#161616" stroke-width="1.5" fill="none"/>
<path d="M1590 309V364.5M1581.7 309H1598.3M1581.7 364.5H1598.3" stroke="#161616" stroke-width="1.5" fill="none"/>
<path d="M1656.6 352.6V419M1648.3 352.6H1664.9M1648.3 419H1664.9" stroke="#161616" stroke-width="1.5" fill="none"/>
<path d="M1723.2 378.7V456.3M1714.9 378.7H1731.5M1714.9 456.3H1731.5" stroke="#161616" stroke-width="1.5" fill="none"/>
<path d="M1790 371.1V495.7M1781.7 371.1H1798.3M1781.7 495.7H1798.3" stroke="#161616" stroke-width="1.5" fill="none"/>
<path d="M1857.1 420V480M1848.8 420H1865.4M1848.8 480H1865.4" stroke="#161616" stroke-width="1.5" fill="none"/>
<path d="M1523 149.2 L1590 337.4 L1656.6 385.8 L1723.2 417.5 L1790 433.4 L1857.1 433.4" stroke="#111" stroke-width="1.8" fill="none" stroke-linejoin="round"/>
<polygon points="1514.8,153.6 1531.2,153.6 1523,140.4" fill="#f2e22f" stroke="#111" stroke-width="1.4" stroke-linejoin="miter"/>
<polygon points="1581.8,341.8 1598.2,341.8 1590,328.6" fill="#f2e22f" stroke="#111" stroke-width="1.4" stroke-linejoin="miter"/>
<polygon points="1648.4,390.2 1664.8,390.2 1656.6,377" fill="#f2e22f" stroke="#111" stroke-width="1.4" stroke-linejoin="miter"/>
<polygon points="1715,421.9 1731.4,421.9 1723.2,408.7" fill="#f2e22f" stroke="#111" stroke-width="1.4" stroke-linejoin="miter"/>
<polygon points="1781.8,437.8 1798.2,437.8 1790,424.6" fill="#f2e22f" stroke="#111" stroke-width="1.4" stroke-linejoin="miter"/>
<polygon points="1848.9,437.8 1865.3,437.8 1857.1,424.6" fill="#f2e22f" stroke="#111" stroke-width="1.4" stroke-linejoin="miter"/>
</g>
<text transform="translate(1581.2 193.8) scale(1.1 0.96) rotate(90)" y="10.25" font-size="20" font-family="DejaVu Sans" text-anchor="middle" fill="#1a1a1a" stroke="#1a1a1a" stroke-width="0.35">*</text>
<text transform="translate(1576.8 234.2) scale(1.1 0.96) rotate(90)" y="10.25" font-size="20" font-family="DejaVu Sans" text-anchor="middle" fill="#1a1a1a" stroke="#1a1a1a" stroke-width="0.35">*</text>
<text transform="translate(1591.3 377.4) scale(1.1 0.96) rotate(90)" y="10.25" font-size="20" font-family="DejaVu Sans" text-anchor="middle" fill="#1a1a1a" stroke="#1a1a1a" stroke-width="0.35">*</text>
<text transform="translate(1672.1 308.6) scale(1.1 0.96) rotate(90)" y="10.25" font-size="20" font-family="DejaVu Sans" text-anchor="middle" fill="#1a1a1a" stroke="#1a1a1a" stroke-width="0.35">*</text>
<text transform="translate(1675.2 343.1) scale(1.1 0.96) rotate(90)" y="10.25" font-size="20" font-family="DejaVu Sans" text-anchor="middle" fill="#1a1a1a" stroke="#1a1a1a" stroke-width="0.35">*</text>
<text transform="translate(1643.3 361) scale(1.1 0.96) rotate(90)" y="10.25" font-size="20" font-family="DejaVu Sans" text-anchor="middle" fill="#1a1a1a" stroke="#1a1a1a" stroke-width="0.35">*</text>
<text transform="translate(1655.8 428.2) scale(1.1 0.96) rotate(90)" y="10.25" font-size="20" font-family="DejaVu Sans" text-anchor="middle" fill="#1a1a1a" stroke="#1a1a1a" stroke-width="0.35">*</text>
<text transform="translate(1732.1 327.3) scale(1.1 0.96) rotate(90)" y="10.25" font-size="20" font-family="DejaVu Sans" text-anchor="middle" fill="#1a1a1a" stroke="#1a1a1a" stroke-width="0.35">*</text>
<text transform="translate(1736.8 403.2) scale(1.1 0.96) rotate(90)" y="10.25" font-size="20" font-family="DejaVu Sans" text-anchor="middle" fill="#1a1a1a" stroke="#1a1a1a" stroke-width="0.35">*</text>
<text transform="translate(1708.4 430) scale(1.1 0.96) rotate(90)" y="10.25" font-size="20" font-family="DejaVu Sans" text-anchor="middle" fill="#1a1a1a" stroke="#1a1a1a" stroke-width="0.35">*</text>
<text transform="translate(1734.7 430) scale(1.1 0.96) rotate(90)" y="10.25" font-size="20" font-family="DejaVu Sans" text-anchor="middle" fill="#1a1a1a" stroke="#1a1a1a" stroke-width="0.35">*</text>
<text transform="translate(1806.6 387.4) scale(1.1 0.96) rotate(90)" y="10.25" font-size="20" font-family="DejaVu Sans" text-anchor="middle" fill="#1a1a1a" stroke="#1a1a1a" stroke-width="0.35">*</text>
<text transform="translate(1804.2 416.8) scale(1.1 0.96) rotate(90)" y="10.25" font-size="20" font-family="DejaVu Sans" text-anchor="middle" fill="#1a1a1a" stroke="#1a1a1a" stroke-width="0.35">*</text>
<text transform="translate(1771.6 449) scale(1.1 0.96) rotate(90)" y="10.25" font-size="20" font-family="DejaVu Sans" text-anchor="middle" fill="#1a1a1a" stroke="#1a1a1a" stroke-width="0.35">*</text>
<text transform="translate(1806.6 449.5) scale(1.1 0.96) rotate(90)" y="10.25" font-size="20" font-family="DejaVu Sans" text-anchor="middle" fill="#1a1a1a" stroke="#1a1a1a" stroke-width="0.35">*</text>
<text transform="translate(1856.3 380) scale(1.1 0.96) rotate(90)" y="10.25" font-size="20" font-family="DejaVu Sans" text-anchor="middle" fill="#1a1a1a" stroke="#1a1a1a" stroke-width="0.35">*</text>
<text transform="translate(1877.9 432.6) scale(1.1 0.96) rotate(90)" y="10.25" font-size="20" font-family="DejaVu Sans" text-anchor="middle" fill="#1a1a1a" stroke="#1a1a1a" stroke-width="0.35">*</text>
<text transform="translate(1877.9 446.8) scale(1.1 0.96) rotate(90)" y="10.25" font-size="20" font-family="DejaVu Sans" text-anchor="middle" fill="#1a1a1a" stroke="#1a1a1a" stroke-width="0.35">*</text>
<text transform="translate(1867.9 452.4) scale(1.1 0.96) rotate(90)" y="10.25" font-size="20" font-family="DejaVu Sans" text-anchor="middle" fill="#1a1a1a" stroke="#1a1a1a" stroke-width="0.35">*</text>
<text x="10" y="523.5" font-size="44" fill="#111">e</text>
<path d="M87.6 553.4V953.5H489" stroke="#262626" stroke-width="1.6" fill="none"/>
<path d="M79.3 939.5H87.6" stroke="#262626" stroke-width="1.5"/>
<text x="69.1" y="945.9" font-size="18.5" text-anchor="end" fill="#1a1a1a" class="t">0.0</text>
<path d="M79.3 884.3H87.6" stroke="#262626" stroke-width="1.5"/>
<text x="69.1" y="890.7" font-size="18.5" text-anchor="end" fill="#1a1a1a" class="t">0.2</text>
<path d="M79.3 829.1H87.6" stroke="#262626" stroke-width="1.5"/>
<text x="69.1" y="835.5" font-size="18.5" text-anchor="end" fill="#1a1a1a" class="t">0.4</text>
<path d="M79.3 773.9H87.6" stroke="#262626" stroke-width="1.5"/>
<text x="69.1" y="780.3" font-size="18.5" text-anchor="end" fill="#1a1a1a" class="t">0.6</text>
<path d="M79.3 718.7H87.6" stroke="#262626" stroke-width="1.5"/>
<text x="69.1" y="725.1" font-size="18.5" text-anchor="end" fill="#1a1a1a" class="t">0.8</text>
<path d="M79.3 663.5H87.6" stroke="#262626" stroke-width="1.5"/>
<text x="69.1" y="669.9" font-size="18.5" text-anchor="end" fill="#1a1a1a" class="t">1.0</text>
<path d="M79.3 608.3H87.6" stroke="#262626" stroke-width="1.5"/>
<text x="69.1" y="614.7" font-size="18.5" text-anchor="end" fill="#1a1a1a" class="t">1.2</text>
<path d="M79.3 553.1H87.6" stroke="#262626" stroke-width="1.5"/>
<text x="69.1" y="559.5" font-size="18.5" text-anchor="end" fill="#1a1a1a" class="t">1.4</text>
<path d="M106.6 953.5V959.7" stroke="#262626" stroke-width="1.5"/>
<text x="106.6" y="985" font-size="18.5" text-anchor="middle" fill="#1a1a1a" class="t">0</text>
<path d="M179.5 953.5V959.7" stroke="#262626" stroke-width="1.5"/>
<text x="180" y="985" font-size="18.5" text-anchor="middle" fill="#1a1a1a" class="t">10<tspan font-size="12.3" dy="-6.4">-3</tspan></text>
<path d="M252.1 953.5V959.7" stroke="#262626" stroke-width="1.5"/>
<text x="252.6" y="985" font-size="18.5" text-anchor="middle" fill="#1a1a1a" class="t">2x10<tspan font-size="12.3" dy="-6.4">-3</tspan></text>
<path d="M325 953.5V959.7" stroke="#262626" stroke-width="1.5"/>
<text x="325.5" y="985" font-size="18.5" text-anchor="middle" fill="#1a1a1a" class="t">3x10<tspan font-size="12.3" dy="-6.4">-3</tspan></text>
<path d="M397.9 953.5V959.7" stroke="#262626" stroke-width="1.5"/>
<text x="398.4" y="985" font-size="18.5" text-anchor="middle" fill="#1a1a1a" class="t">4x10<tspan font-size="12.3" dy="-6.4">-3</tspan></text>
<path d="M470.5 953.5V959.7" stroke="#262626" stroke-width="1.5"/>
<text x="471" y="985" font-size="18.5" text-anchor="middle" fill="#1a1a1a" class="t">5x10<tspan font-size="12.3" dy="-6.4">-3</tspan></text>
<clipPath id="clip4"><rect x="87.6" y="0" width="421.4" height="953.5"/></clipPath>
<g clip-path="url(#clip4)">
<path d="M106.6 653.9V673.5M100.5 653.9H112.7M100.5 673.5H112.7" stroke="#161616" stroke-width="1.5" fill="none"/>
<path d="M179.5 612.1V697.9M173.4 612.1H185.6M173.4 697.9H185.6" stroke="#161616" stroke-width="1.5" fill="none"/>
<path d="M252.1 666.3V721M246 666.3H258.2M246 721H258.2" stroke="#161616" stroke-width="1.5" fill="none"/>
<path d="M325 636V655M318.9 636H331.1M318.9 655H331.1" stroke="#161616" stroke-width="1.5" fill="none"/>
<path d="M397.9 627.4V701.4M391.8 627.4H404M391.8 701.4H404" stroke="#161616" stroke-width="1.5" fill="none"/>
<path d="M470.5 582V659.2M464.4 582H476.6M464.4 659.2H476.6" stroke="#161616" stroke-width="1.5" fill="none"/>
<path d="M106.6 663.5 L179.5 655 L252.1 693.7 L325 645.5 L397.9 666.5 L470.5 620" stroke="#111" stroke-width="1.8" fill="none" stroke-linejoin="round"/>
<circle cx="106.6" cy="663.5" r="7.9" fill="#1c1c1c" stroke="#111" stroke-width="1.4"/>
<circle cx="179.5" cy="655" r="7.9" fill="#1c1c1c" stroke="#111" stroke-width="1.4"/>
<circle cx="252.1" cy="693.7" r="7.9" fill="#1c1c1c" stroke="#111" stroke-width="1.4"/>
<circle cx="325" cy="645.5" r="7.9" fill="#1c1c1c" stroke="#111" stroke-width="1.4"/>
<circle cx="397.9" cy="666.5" r="7.9" fill="#1c1c1c" stroke="#111" stroke-width="1.4"/>
<circle cx="470.5" cy="620" r="7.9" fill="#1c1c1c" stroke="#111" stroke-width="1.4"/>
<path d="M106.6 653.9V673.5M100.5 653.9H112.7M100.5 673.5H112.7" stroke="#161616" stroke-width="1.5" fill="none"/>
<path d="M179.5 640.6V655.4M173.4 640.6H185.6M173.4 655.4H185.6" stroke="#161616" stroke-width="1.5" fill="none"/>
<path d="M252.1 630.7V651.1M246 630.7H258.2M246 651.1H258.2" stroke="#161616" stroke-width="1.5" fill="none"/>
<path d="M325 631.2V649.6M318.9 631.2H331.1M318.9 649.6H331.1" stroke="#161616" stroke-width="1.5" fill="none"/>
<path d="M397.9 647.6V670M391.8 647.6H404M391.8 670H404" stroke="#161616" stroke-width="1.5" fill="none"/>
<path d="M470.5 621V667.8M464.4 621H476.6M464.4 667.8H476.6" stroke="#161616" stroke-width="1.5" fill="none"/>
<path d="M106.6 663.5 L179.5 648 L252.1 641 L325 640.4 L397.9 658.8 L470.5 644.4" stroke="#111" stroke-width="1.8" fill="none" stroke-linejoin="round"/>
<circle cx="106.6" cy="663.5" r="7.9" fill="#e32b2b" stroke="#111" stroke-width="1.4"/>
<circle cx="179.5" cy="648" r="7.9" fill="#e32b2b" stroke="#111" stroke-width="1.4"/>
<circle cx="252.1" cy="641" r="7.9" fill="#e32b2b" stroke="#111" stroke-width="1.4"/>
<circle cx="325" cy="640.4" r="7.9" fill="#e32b2b" stroke="#111" stroke-width="1.4"/>
<circle cx="397.9" cy="658.8" r="7.9" fill="#e32b2b" stroke="#111" stroke-width="1.4"/>
<circle cx="470.5" cy="644.4" r="7.9" fill="#e32b2b" stroke="#111" stroke-width="1.4"/>
<path d="M106.6 662V665M100.5 662H112.7M100.5 665H112.7" stroke="#161616" stroke-width="1.5" fill="none"/>
<path d="M179.5 704V731.9M173.4 704H185.6M173.4 731.9H185.6" stroke="#161616" stroke-width="1.5" fill="none"/>
<path d="M252.1 706.5V742.1M246 706.5H258.2M246 742.1H258.2" stroke="#161616" stroke-width="1.5" fill="none"/>
<path d="M325 723.5V742.4M318.9 723.5H331.1M318.9 742.4H331.1" stroke="#161616" stroke-width="1.5" fill="none"/>
<path d="M397.9 731.5V769.9M391.8 731.5H404M391.8 769.9H404" stroke="#161616" stroke-width="1.5" fill="none"/>
<path d="M470.5 705.1V720.7M464.4 705.1H476.6M464.4 720.7H476.6" stroke="#161616" stroke-width="1.5" fill="none"/>
<path d="M106.6 663.5 L179.5 717.9 L252.1 724.2 L325 732.7 L397.9 750.2 L470.5 712.2" stroke="#111" stroke-width="1.8" fill="none" stroke-linejoin="round"/>
<polygon points="98.4,659.1 114.8,659.1 106.6,672.3" fill="#5cb946" stroke="#111" stroke-width="1.4" stroke-linejoin="miter"/>
<polygon points="171.3,713.5 187.7,713.5 179.5,726.7" fill="#5cb946" stroke="#111" stroke-width="1.4" stroke-linejoin="miter"/>
<polygon points="243.9,719.8 260.3,719.8 252.1,733" fill="#5cb946" stroke="#111" stroke-width="1.4" stroke-linejoin="miter"/>
<polygon points="316.8,728.3 333.2,728.3 325,741.5" fill="#5cb946" stroke="#111" stroke-width="1.4" stroke-linejoin="miter"/>
<polygon points="389.7,745.8 406.1,745.8 397.9,759" fill="#5cb946" stroke="#111" stroke-width="1.4" stroke-linejoin="miter"/>
<polygon points="462.3,707.8 478.7,707.8 470.5,721" fill="#5cb946" stroke="#111" stroke-width="1.4" stroke-linejoin="miter"/>
<path d="M106.6 662V665M100.5 662H112.7M100.5 665H112.7" stroke="#161616" stroke-width="1.5" fill="none"/>
<path d="M179.5 651.8V676.9M173.4 651.8H185.6M173.4 676.9H185.6" stroke="#161616" stroke-width="1.5" fill="none"/>
<path d="M252.1 683.3V711.5M246 683.3H258.2M246 711.5H258.2" stroke="#161616" stroke-width="1.5" fill="none"/>
<path d="M325 676.6V708.2M318.9 676.6H331.1M318.9 708.2H331.1" stroke="#161616" stroke-width="1.5" fill="none"/>
<path d="M397.9 689.1V702M391.8 689.1H404M391.8 702H404" stroke="#161616" stroke-width="1.5" fill="none"/>
<path d="M470.5 698.7V723.5M464.4 698.7H476.6M464.4 723.5H476.6" stroke="#161616" stroke-width="1.5" fill="none"/>
<path d="M106.6 663.5 L179.5 665.5 L252.1 698 L325 692.8 L397.9 696 L470.5 711.8" stroke="#111" stroke-width="1.8" fill="none" stroke-linejoin="round"/>
<polygon points="98.4,667.9 114.8,667.9 106.6,654.7" fill="#f2e22f" stroke="#111" stroke-width="1.4" stroke-linejoin="miter"/>
<polygon points="171.3,669.9 187.7,669.9 179.5,656.7" fill="#f2e22f" stroke="#111" stroke-width="1.4" stroke-linejoin="miter"/>
<polygon points="243.9,702.4 260.3,702.4 252.1,689.2" fill="#f2e22f" stroke="#111" stroke-width="1.4" stroke-linejoin="miter"/>
<polygon points="316.8,697.2 333.2,697.2 325,684" fill="#f2e22f" stroke="#111" stroke-width="1.4" stroke-linejoin="miter"/>
<polygon points="389.7,700.4 406.1,700.4 397.9,687.2" fill="#f2e22f" stroke="#111" stroke-width="1.4" stroke-linejoin="miter"/>
<polygon points="462.3,716.2 478.7,716.2 470.5,703" fill="#f2e22f" stroke="#111" stroke-width="1.4" stroke-linejoin="miter"/>
</g>
<text x="530" y="533.5" font-size="44" fill="#111">f</text>
<path d="M561.8 553.4V953.5H962.6" stroke="#262626" stroke-width="1.6" fill="none"/>
<path d="M553.5 939.5H561.8" stroke="#262626" stroke-width="1.5"/>
<text x="543.3" y="945.9" font-size="18.5" text-anchor="end" fill="#1a1a1a" class="t">0.0</text>
<path d="M553.5 884.3H561.8" stroke="#262626" stroke-width="1.5"/>
<text x="543.3" y="890.7" font-size="18.5" text-anchor="end" fill="#1a1a1a" class="t">0.2</text>
<path d="M553.5 829.1H561.8" stroke="#262626" stroke-width="1.5"/>
<text x="543.3" y="835.5" font-size="18.5" text-anchor="end" fill="#1a1a1a" class="t">0.4</text>
<path d="M553.5 773.9H561.8" stroke="#262626" stroke-width="1.5"/>
<text x="543.3" y="780.3" font-size="18.5" text-anchor="end" fill="#1a1a1a" class="t">0.6</text>
<path d="M553.5 718.7H561.8" stroke="#262626" stroke-width="1.5"/>
<text x="543.3" y="725.1" font-size="18.5" text-anchor="end" fill="#1a1a1a" class="t">0.8</text>
<path d="M553.5 663.5H561.8" stroke="#262626" stroke-width="1.5"/>
<text x="543.3" y="669.9" font-size="18.5" text-anchor="end" fill="#1a1a1a" class="t">1.0</text>
<path d="M553.5 608.3H561.8" stroke="#262626" stroke-width="1.5"/>
<text x="543.3" y="614.7" font-size="18.5" text-anchor="end" fill="#1a1a1a" class="t">1.2</text>
<path d="M553.5 553.1H561.8" stroke="#262626" stroke-width="1.5"/>
<text x="543.3" y="559.5" font-size="18.5" text-anchor="end" fill="#1a1a1a" class="t">1.4</text>
<path d="M569.2 953.5V959.7" stroke="#262626" stroke-width="1.5"/>
<text x="569.7" y="985" font-size="18.5" text-anchor="middle" fill="#1a1a1a" class="t">10<tspan font-size="12.3" dy="-6.4">-11</tspan></text>
<path d="M642.1 953.5V959.7" stroke="#262626" stroke-width="1.5"/>
<text x="642.6" y="985" font-size="18.5" text-anchor="middle" fill="#1a1a1a" class="t">10<tspan font-size="12.3" dy="-6.4">-10</tspan></text>
<path d="M715 953.5V959.7" stroke="#262626" stroke-width="1.5"/>
<text x="715.5" y="985" font-size="18.5" text-anchor="middle" fill="#1a1a1a" class="t">10<tspan font-size="12.3" dy="-6.4">-9</tspan></text>
<path d="M787.6 953.5V959.7" stroke="#262626" stroke-width="1.5"/>
<text x="788.1" y="985" font-size="18.5" text-anchor="middle" fill="#1a1a1a" class="t">10<tspan font-size="12.3" dy="-6.4">-8</tspan></text>
<path d="M860.5 953.5V959.7" stroke="#262626" stroke-width="1.5"/>
<text x="861" y="985" font-size="18.5" text-anchor="middle" fill="#1a1a1a" class="t">10<tspan font-size="12.3" dy="-6.4">-7</tspan></text>
<path d="M933.4 953.5V959.7" stroke="#262626" stroke-width="1.5"/>
<text x="933.9" y="985" font-size="18.5" text-anchor="middle" fill="#1a1a1a" class="t">10<tspan font-size="12.3" dy="-6.4">-6</tspan></text>
<clipPath id="clip5"><rect x="561.8" y="0" width="420.8" height="953.5"/></clipPath>
<g clip-path="url(#clip5)">
<path d="M580.3 652.4V674.4M574.2 652.4H586.4M574.2 674.4H586.4" stroke="#161616" stroke-width="1.5" fill="none"/>
<path d="M653.2 648.4V796.4M647.1 648.4H659.3M647.1 796.4H659.3" stroke="#161616" stroke-width="1.5" fill="none"/>
<path d="M725.8 663.1V750M719.7 663.1H731.9M719.7 750H731.9" stroke="#161616" stroke-width="1.5" fill="none"/>
<path d="M798.7 678.9V750.9M792.6 678.9H804.8M792.6 750.9H804.8" stroke="#161616" stroke-width="1.5" fill="none"/>
<path d="M871.6 665.6V797.2M865.5 665.6H877.7M865.5 797.2H877.7" stroke="#161616" stroke-width="1.5" fill="none"/>
<path d="M944.7 622V798.5M938.6 622H950.8M938.6 798.5H950.8" stroke="#161616" stroke-width="1.5" fill="none"/>
<path d="M580.3 662.8 L653.2 722.4 L725.8 706.9 L798.7 714.9 L871.6 731.4 L944.7 709.7" stroke="#111" stroke-width="1.8" fill="none" stroke-linejoin="round"/>
<circle cx="580.3" cy="662.8" r="7.9" fill="#1c1c1c" stroke="#111" stroke-width="1.4"/>
<circle cx="653.2" cy="722.4" r="7.9" fill="#1c1c1c" stroke="#111" stroke-width="1.4"/>
<circle cx="725.8" cy="706.9" r="7.9" fill="#1c1c1c" stroke="#111" stroke-width="1.4"/>
<circle cx="798.7" cy="714.9" r="7.9" fill="#1c1c1c" stroke="#111" stroke-width="1.4"/>
<circle cx="871.6" cy="731.4" r="7.9" fill="#1c1c1c" stroke="#111" stroke-width="1.4"/>
<circle cx="944.7" cy="709.7" r="7.9" fill="#1c1c1c" stroke="#111" stroke-width="1.4"/>
<path d="M580.3 652.4V674.4M574.2 652.4H586.4M574.2 674.4H586.4" stroke="#161616" stroke-width="1.5" fill="none"/>
<path d="M653.2 608.9V649.3M647.1 608.9H659.3M647.1 649.3H659.3" stroke="#161616" stroke-width="1.5" fill="none"/>
<path d="M725.8 589.8V686.2M719.7 589.8H731.9M719.7 686.2H731.9" stroke="#161616" stroke-width="1.5" fill="none"/>
<path d="M798.7 639.2V682.8M792.6 639.2H804.8M792.6 682.8H804.8" stroke="#161616" stroke-width="1.5" fill="none"/>
<path d="M871.6 660.9V692.3M865.5 660.9H877.7M865.5 692.3H877.7" stroke="#161616" stroke-width="1.5" fill="none"/>
<path d="M944.7 593.1V669.6M938.6 593.1H950.8M938.6 669.6H950.8" stroke="#161616" stroke-width="1.5" fill="none"/>
<path d="M580.3 662.8 L653.2 629.2 L725.8 638 L798.7 661 L871.6 676.6 L944.7 631.3" stroke="#111" stroke-width="1.8" fill="none" stroke-linejoin="round"/>
<circle cx="580.3" cy="662.8" r="7.9" fill="#e32b2b" stroke="#111" stroke-width="1.4"/>
<circle cx="653.2" cy="629.2" r="7.9" fill="#e32b2b" stroke="#111" stroke-width="1.4"/>
<circle cx="725.8" cy="638" r="7.9" fill="#e32b2b" stroke="#111" stroke-width="1.4"/>
<circle cx="798.7" cy="661" r="7.9" fill="#e32b2b" stroke="#111" stroke-width="1.4"/>
<circle cx="871.6" cy="676.6" r="7.9" fill="#e32b2b" stroke="#111" stroke-width="1.4"/>
<circle cx="944.7" cy="631.3" r="7.9" fill="#e32b2b" stroke="#111" stroke-width="1.4"/>
<path d="M580.3 661V664M574.2 661H586.4M574.2 664H586.4" stroke="#161616" stroke-width="1.5" fill="none"/>
<path d="M653.2 643.2V677.5M647.1 643.2H659.3M647.1 677.5H659.3" stroke="#161616" stroke-width="1.5" fill="none"/>
<path d="M725.8 684.1V718.9M719.7 684.1H731.9M719.7 718.9H731.9" stroke="#161616" stroke-width="1.5" fill="none"/>
<path d="M798.7 620V673.5M792.6 620H804.8M792.6 673.5H804.8" stroke="#161616" stroke-width="1.5" fill="none"/>
<path d="M871.6 646.5V682.5M865.5 646.5H877.7M865.5 682.5H877.7" stroke="#161616" stroke-width="1.5" fill="none"/>
<path d="M944.7 712V746M938.6 712H950.8M938.6 746H950.8" stroke="#161616" stroke-width="1.5" fill="none"/>
<path d="M580.3 662.8 L653.2 660 L725.8 701.5 L798.7 647.5 L871.6 664.5 L944.7 717.6" stroke="#111" stroke-width="1.8" fill="none" stroke-linejoin="round"/>
<polygon points="572.1,658.4 588.5,658.4 580.3,671.6" fill="#5cb946" stroke="#111" stroke-width="1.4" stroke-linejoin="miter"/>
<polygon points="645,655.6 661.4,655.6 653.2,668.8" fill="#5cb946" stroke="#111" stroke-width="1.4" stroke-linejoin="miter"/>
<polygon points="717.6,697.1 734,697.1 725.8,710.3" fill="#5cb946" stroke="#111" stroke-width="1.4" stroke-linejoin="miter"/>
<polygon points="790.5,643.1 806.9,643.1 798.7,656.3" fill="#5cb946" stroke="#111" stroke-width="1.4" stroke-linejoin="miter"/>
<polygon points="863.4,660.1 879.8,660.1 871.6,673.3" fill="#5cb946" stroke="#111" stroke-width="1.4" stroke-linejoin="miter"/>
<polygon points="936.5,713.2 952.9,713.2 944.7,726.4" fill="#5cb946" stroke="#111" stroke-width="1.4" stroke-linejoin="miter"/>
<path d="M580.3 661V664M574.2 661H586.4M574.2 664H586.4" stroke="#161616" stroke-width="1.5" fill="none"/>
<path d="M653.2 682.9V711.3M647.1 682.9H659.3M647.1 711.3H659.3" stroke="#161616" stroke-width="1.5" fill="none"/>
<path d="M725.8 674.7V699.3M719.7 674.7H731.9M719.7 699.3H731.9" stroke="#161616" stroke-width="1.5" fill="none"/>
<path d="M798.7 678.9V702.7M792.6 678.9H804.8M792.6 702.7H804.8" stroke="#161616" stroke-width="1.5" fill="none"/>
<path d="M871.6 694V751.5M865.5 694H877.7M865.5 751.5H877.7" stroke="#161616" stroke-width="1.5" fill="none"/>
<path d="M944.7 679.6V748.8M938.6 679.6H950.8M938.6 748.8H950.8" stroke="#161616" stroke-width="1.5" fill="none"/>
<path d="M580.3 662.8 L653.2 697.8 L725.8 687 L798.7 692.3 L871.6 722 L944.7 714.9" stroke="#111" stroke-width="1.8" fill="none" stroke-linejoin="round"/>
<polygon points="572.1,667.2 588.5,667.2 580.3,654" fill="#f2e22f" stroke="#111" stroke-width="1.4" stroke-linejoin="miter"/>
<polygon points="645,702.2 661.4,702.2 653.2,689" fill="#f2e22f" stroke="#111" stroke-width="1.4" stroke-linejoin="miter"/>
<polygon points="717.6,691.4 734,691.4 725.8,678.2" fill="#f2e22f" stroke="#111" stroke-width="1.4" stroke-linejoin="miter"/>
<polygon points="790.5,696.7 806.9,696.7 798.7,683.5" fill="#f2e22f" stroke="#111" stroke-width="1.4" stroke-linejoin="miter"/>
<polygon points="863.4,726.4 879.8,726.4 871.6,713.2" fill="#f2e22f" stroke="#111" stroke-width="1.4" stroke-linejoin="miter"/>
<polygon points="936.5,719.3 952.9,719.3 944.7,706.1" fill="#f2e22f" stroke="#111" stroke-width="1.4" stroke-linejoin="miter"/>
</g>
<text x="993" y="523.5" font-size="44" fill="#111">g</text>
<path d="M1024.2 554V953H1424.2" stroke="#262626" stroke-width="1.6" fill="none"/>
<path d="M1015.9 938.1H1024.2" stroke="#262626" stroke-width="1.5"/>
<text x="1005.7" y="944.5" font-size="18.5" text-anchor="end" fill="#1a1a1a" class="t">0.0</text>
<path d="M1015.9 878.9H1024.2" stroke="#262626" stroke-width="1.5"/>
<text x="1005.7" y="885.3" font-size="18.5" text-anchor="end" fill="#1a1a1a" class="t">0.2</text>
<path d="M1015.9 819.7H1024.2" stroke="#262626" stroke-width="1.5"/>
<text x="1005.7" y="826.1" font-size="18.5" text-anchor="end" fill="#1a1a1a" class="t">0.4</text>
<path d="M1015.9 760.5H1024.2" stroke="#262626" stroke-width="1.5"/>
<text x="1005.7" y="766.9" font-size="18.5" text-anchor="end" fill="#1a1a1a" class="t">0.6</text>
<path d="M1015.9 701.3H1024.2" stroke="#262626" stroke-width="1.5"/>
<text x="1005.7" y="707.7" font-size="18.5" text-anchor="end" fill="#1a1a1a" class="t">0.8</text>
<path d="M1015.9 642.1H1024.2" stroke="#262626" stroke-width="1.5"/>
<text x="1005.7" y="648.5" font-size="18.5" text-anchor="end" fill="#1a1a1a" class="t">1.0</text>
<path d="M1015.9 582.9H1024.2" stroke="#262626" stroke-width="1.5"/>
<text x="1005.7" y="589.3" font-size="18.5" text-anchor="end" fill="#1a1a1a" class="t">1.2</text>
<path d="M1042.1 953V959.2" stroke="#262626" stroke-width="1.5"/>
<text x="1042.1" y="984.5" font-size="18.5" text-anchor="middle" fill="#1a1a1a" class="t">0</text>
<path d="M1115 953V959.2" stroke="#262626" stroke-width="1.5"/>
<text x="1115.5" y="984.5" font-size="18.5" text-anchor="middle" fill="#1a1a1a" class="t">10<tspan font-size="12.3" dy="-6.4">-3</tspan></text>
<path d="M1187.6 953V959.2" stroke="#262626" stroke-width="1.5"/>
<text x="1188.1" y="984.5" font-size="18.5" text-anchor="middle" fill="#1a1a1a" class="t">2x10<tspan font-size="12.3" dy="-6.4">-3</tspan></text>
<path d="M1260.5 953V959.2" stroke="#262626" stroke-width="1.5"/>
<text x="1261" y="984.5" font-size="18.5" text-anchor="middle" fill="#1a1a1a" class="t">3x10<tspan font-size="12.3" dy="-6.4">-3</tspan></text>
<path d="M1333.4 953V959.2" stroke="#262626" stroke-width="1.5"/>
<text x="1333.9" y="984.5" font-size="18.5" text-anchor="middle" fill="#1a1a1a" class="t">4x10<tspan font-size="12.3" dy="-6.4">-3</tspan></text>
<path d="M1406 953V959.2" stroke="#262626" stroke-width="1.5"/>
<text x="1406.5" y="984.5" font-size="18.5" text-anchor="middle" fill="#1a1a1a" class="t">5x10<tspan font-size="12.3" dy="-6.4">-3</tspan></text>
<clipPath id="clip6"><rect x="1024.2" y="0" width="420" height="953"/></clipPath>
<g clip-path="url(#clip6)">
<path d="M1042.1 632.8V650.3M1036 632.8H1048.2M1036 650.3H1048.2" stroke="#161616" stroke-width="1.5" fill="none"/>
<path d="M1115 756.5V809M1108.9 756.5H1121.1M1108.9 809H1121.1" stroke="#161616" stroke-width="1.5" fill="none"/>
<path d="M1187.6 862.3V891.7M1181.5 862.3H1193.7M1181.5 891.7H1193.7" stroke="#161616" stroke-width="1.5" fill="none"/>
<path d="M1260.5 883.7V905.6M1254.4 883.7H1266.6M1254.4 905.6H1266.6" stroke="#161616" stroke-width="1.5" fill="none"/>
<path d="M1333.4 896V904M1327.3 896H1339.5M1327.3 904H1339.5" stroke="#161616" stroke-width="1.5" fill="none"/>
<path d="M1406.4 894.1V906M1400.3 894.1H1412.5M1400.3 906H1412.5" stroke="#161616" stroke-width="1.5" fill="none"/>
<path d="M1042.1 641.5 L1115 782.4 L1187.6 876.5 L1260.5 894.5 L1333.4 900.2 L1406.4 902.2" stroke="#111" stroke-width="1.8" fill="none" stroke-linejoin="round"/>
<circle cx="1042.1" cy="641.5" r="7.9" fill="#1c1c1c" stroke="#111" stroke-width="1.4"/>
<circle cx="1115" cy="782.4" r="7.9" fill="#1c1c1c" stroke="#111" stroke-width="1.4"/>
<circle cx="1187.6" cy="876.5" r="7.9" fill="#1c1c1c" stroke="#111" stroke-width="1.4"/>
<circle cx="1260.5" cy="894.5" r="7.9" fill="#1c1c1c" stroke="#111" stroke-width="1.4"/>
<circle cx="1333.4" cy="900.2" r="7.9" fill="#1c1c1c" stroke="#111" stroke-width="1.4"/>
<circle cx="1406.4" cy="902.2" r="7.9" fill="#1c1c1c" stroke="#111" stroke-width="1.4"/>
<path d="M1042.1 632.8V650.3M1036 632.8H1048.2M1036 650.3H1048.2" stroke="#161616" stroke-width="1.5" fill="none"/>
<path d="M1115 611.1V640.2M1108.9 611.1H1121.1M1108.9 640.2H1121.1" stroke="#161616" stroke-width="1.5" fill="none"/>
<path d="M1187.6 649.2V675.9M1181.5 649.2H1193.7M1181.5 675.9H1193.7" stroke="#161616" stroke-width="1.5" fill="none"/>
<path d="M1260.5 675.1V694.6M1254.4 675.1H1266.6M1254.4 694.6H1266.6" stroke="#161616" stroke-width="1.5" fill="none"/>
<path d="M1333.4 705.8V726.1M1327.3 705.8H1339.5M1327.3 726.1H1339.5" stroke="#161616" stroke-width="1.5" fill="none"/>
<path d="M1406.4 747V767.9M1400.3 747H1412.5M1400.3 767.9H1412.5" stroke="#161616" stroke-width="1.5" fill="none"/>
<path d="M1042.1 641.5 L1115 625.1 L1187.6 661.9 L1260.5 684.4 L1333.4 715.5 L1406.4 757.3" stroke="#111" stroke-width="1.8" fill="none" stroke-linejoin="round"/>
<circle cx="1042.1" cy="641.5" r="7.9" fill="#e32b2b" stroke="#111" stroke-width="1.4"/>
<circle cx="1115" cy="625.1" r="7.9" fill="#e32b2b" stroke="#111" stroke-width="1.4"/>
<circle cx="1187.6" cy="661.9" r="7.9" fill="#e32b2b" stroke="#111" stroke-width="1.4"/>
<circle cx="1260.5" cy="684.4" r="7.9" fill="#e32b2b" stroke="#111" stroke-width="1.4"/>
<circle cx="1333.4" cy="715.5" r="7.9" fill="#e32b2b" stroke="#111" stroke-width="1.4"/>
<circle cx="1406.4" cy="757.3" r="7.9" fill="#e32b2b" stroke="#111" stroke-width="1.4"/>
<path d="M1042.1 640V643M1036 640H1048.2M1036 643H1048.2" stroke="#161616" stroke-width="1.5" fill="none"/>
<path d="M1115 697V715.3M1108.9 697H1121.1M1108.9 715.3H1121.1" stroke="#161616" stroke-width="1.5" fill="none"/>
<path d="M1187.6 767V808.9M1181.5 767H1193.7M1181.5 808.9H1193.7" stroke="#161616" stroke-width="1.5" fill="none"/>
<path d="M1260.5 812V826.7M1254.4 812H1266.6M1254.4 826.7H1266.6" stroke="#161616" stroke-width="1.5" fill="none"/>
<path d="M1333.4 846V870.1M1327.3 846H1339.5M1327.3 870.1H1339.5" stroke="#161616" stroke-width="1.5" fill="none"/>
<path d="M1406.4 858.9V894.1M1400.3 858.9H1412.5M1400.3 894.1H1412.5" stroke="#161616" stroke-width="1.5" fill="none"/>
<path d="M1042.1 641.5 L1115 705.8 L1187.6 788 L1260.5 819 L1333.4 858.2 L1406.4 876.5" stroke="#111" stroke-width="1.8" fill="none" stroke-linejoin="round"/>
<polygon points="1033.9,637.1 1050.3,637.1 1042.1,650.3" fill="#5cb946" stroke="#111" stroke-width="1.4" stroke-linejoin="miter"/>
<polygon points="1106.8,701.4 1123.2,701.4 1115,714.6" fill="#5cb946" stroke="#111" stroke-width="1.4" stroke-linejoin="miter"/>
<polygon points="1179.4,783.6 1195.8,783.6 1187.6,796.8" fill="#5cb946" stroke="#111" stroke-width="1.4" stroke-linejoin="miter"/>
<polygon points="1252.3,814.6 1268.7,814.6 1260.5,827.8" fill="#5cb946" stroke="#111" stroke-width="1.4" stroke-linejoin="miter"/>
<polygon points="1325.2,853.8 1341.6,853.8 1333.4,867" fill="#5cb946" stroke="#111" stroke-width="1.4" stroke-linejoin="miter"/>
<polygon points="1398.2,872.1 1414.6,872.1 1406.4,885.3" fill="#5cb946" stroke="#111" stroke-width="1.4" stroke-linejoin="miter"/>
<path d="M1042.1 640V643M1036 640H1048.2M1036 643H1048.2" stroke="#161616" stroke-width="1.5" fill="none"/>
<path d="M1115 699.1V710M1108.9 699.1H1121.1M1108.9 710H1121.1" stroke="#161616" stroke-width="1.5" fill="none"/>
<path d="M1187.6 767.9V782M1181.5 767.9H1193.7M1181.5 782H1193.7" stroke="#161616" stroke-width="1.5" fill="none"/>
<path d="M1260.5 758.3V799.3M1254.4 758.3H1266.6M1254.4 799.3H1266.6" stroke="#161616" stroke-width="1.5" fill="none"/>
<path d="M1333.4 839.3V852.8M1327.3 839.3H1339.5M1327.3 852.8H1339.5" stroke="#161616" stroke-width="1.5" fill="none"/>
<path d="M1406.4 852.1V866.3M1400.3 852.1H1412.5M1400.3 866.3H1412.5" stroke="#161616" stroke-width="1.5" fill="none"/>
<path d="M1042.1 641.5 L1115 704.5 L1187.6 776.4 L1260.5 779.5 L1333.4 846.9 L1406.4 860.3" stroke="#111" stroke-width="1.8" fill="none" stroke-linejoin="round"/>
<polygon points="1033.9,645.9 1050.3,645.9 1042.1,632.7" fill="#f2e22f" stroke="#111" stroke-width="1.4" stroke-linejoin="miter"/>
<polygon points="1106.8,708.9 1123.2,708.9 1115,695.7" fill="#f2e22f" stroke="#111" stroke-width="1.4" stroke-linejoin="miter"/>
<polygon points="1179.4,780.8 1195.8,780.8 1187.6,767.6" fill="#f2e22f" stroke="#111" stroke-width="1.4" stroke-linejoin="miter"/>
<polygon points="1252.3,783.9 1268.7,783.9 1260.5,770.7" fill="#f2e22f" stroke="#111" stroke-width="1.4" stroke-linejoin="miter"/>
<polygon points="1325.2,851.3 1341.6,851.3 1333.4,838.1" fill="#f2e22f" stroke="#111" stroke-width="1.4" stroke-linejoin="miter"/>
<polygon points="1398.2,864.7 1414.6,864.7 1406.4,851.5" fill="#f2e22f" stroke="#111" stroke-width="1.4" stroke-linejoin="miter"/>
</g>
<text transform="translate(1118.7 686.7) scale(1.1 0.96) rotate(90)" y="10.25" font-size="20" font-family="DejaVu Sans" text-anchor="middle" fill="#1a1a1a" stroke="#1a1a1a" stroke-width="0.35">*</text>
<text transform="translate(1115.2 725.4) scale(1.1 0.96) rotate(90)" y="10.25" font-size="20" font-family="DejaVu Sans" text-anchor="middle" fill="#1a1a1a" stroke="#1a1a1a" stroke-width="0.35">*</text>
<text transform="translate(1115 822.7) scale(1.1 0.96) rotate(90)" y="10.25" font-size="20" font-family="DejaVu Sans" text-anchor="middle" fill="#1a1a1a" stroke="#1a1a1a" stroke-width="0.35">*</text>
<text transform="translate(1190.6 756.3) scale(1.1 0.96) rotate(90)" y="10.25" font-size="20" font-family="DejaVu Sans" text-anchor="middle" fill="#1a1a1a" stroke="#1a1a1a" stroke-width="0.35">*</text>
<text transform="translate(1187.6 822.8) scale(1.1 0.96) rotate(90)" y="10.25" font-size="20" font-family="DejaVu Sans" text-anchor="middle" fill="#1a1a1a" stroke="#1a1a1a" stroke-width="0.35">*</text>
<text transform="translate(1186.3 901.6) scale(1.1 0.96) rotate(90)" y="10.25" font-size="20" font-family="DejaVu Sans" text-anchor="middle" fill="#1a1a1a" stroke="#1a1a1a" stroke-width="0.35">*</text>
<text transform="translate(1260.7 704.7) scale(1.1 0.96) rotate(90)" y="10.25" font-size="20" font-family="DejaVu Sans" text-anchor="middle" fill="#1a1a1a" stroke="#1a1a1a" stroke-width="0.35">*</text>
<text transform="translate(1260.4 751.6) scale(1.1 0.96) rotate(90)" y="10.25" font-size="20" font-family="DejaVu Sans" text-anchor="middle" fill="#1a1a1a" stroke="#1a1a1a" stroke-width="0.35">*</text>
<text transform="translate(1260.4 839.1) scale(1.1 0.96) rotate(90)" y="10.25" font-size="20" font-family="DejaVu Sans" text-anchor="middle" fill="#1a1a1a" stroke="#1a1a1a" stroke-width="0.35">*</text>
<text transform="translate(1260.5 917.4) scale(1.1 0.96) rotate(90)" y="10.25" font-size="20" font-family="DejaVu Sans" text-anchor="middle" fill="#1a1a1a" stroke="#1a1a1a" stroke-width="0.35">*</text>
<text transform="translate(1330.8 738.3) scale(1.1 0.96) rotate(90)" y="10.25" font-size="20" font-family="DejaVu Sans" text-anchor="middle" fill="#1a1a1a" stroke="#1a1a1a" stroke-width="0.35">*</text>
<text transform="translate(1333.2 829.8) scale(1.1 0.96) rotate(90)" y="10.25" font-size="20" font-family="DejaVu Sans" text-anchor="middle" fill="#1a1a1a" stroke="#1a1a1a" stroke-width="0.35">*</text>
<text transform="translate(1330.9 880.6) scale(1.1 0.96) rotate(90)" y="10.25" font-size="20" font-family="DejaVu Sans" text-anchor="middle" fill="#1a1a1a" stroke="#1a1a1a" stroke-width="0.35">*</text>
<text transform="translate(1333.2 916.4) scale(1.1 0.96) rotate(90)" y="10.25" font-size="20" font-family="DejaVu Sans" text-anchor="middle" fill="#1a1a1a" stroke="#1a1a1a" stroke-width="0.35">*</text>
<text transform="translate(1406.2 776) scale(1.1 0.96) rotate(90)" y="10.25" font-size="20" font-family="DejaVu Sans" text-anchor="middle" fill="#1a1a1a" stroke="#1a1a1a" stroke-width="0.35">*</text>
<text transform="translate(1406.3 841.3) scale(1.1 0.96) rotate(90)" y="10.25" font-size="20" font-family="DejaVu Sans" text-anchor="middle" fill="#1a1a1a" stroke="#1a1a1a" stroke-width="0.35">*</text>
<text transform="translate(1425.9 879.9) scale(1.1 0.96) rotate(90)" y="10.25" font-size="20" font-family="DejaVu Sans" text-anchor="middle" fill="#1a1a1a" stroke="#1a1a1a" stroke-width="0.35">*</text>
<text transform="translate(1406.3 923.2) scale(1.1 0.96) rotate(90)" y="10.25" font-size="20" font-family="DejaVu Sans" text-anchor="middle" fill="#1a1a1a" stroke="#1a1a1a" stroke-width="0.35">*</text>
<text x="1452" y="539" font-size="44" fill="#111">h</text>
<path d="M1495.5 553.4V953H1896" stroke="#262626" stroke-width="1.6" fill="none"/>
<path d="M1487.2 938.1H1495.5" stroke="#262626" stroke-width="1.5"/>
<text x="1477" y="944.5" font-size="18.5" text-anchor="end" fill="#1a1a1a" class="t">0.0</text>
<path d="M1487.2 878.9H1495.5" stroke="#262626" stroke-width="1.5"/>
<text x="1477" y="885.3" font-size="18.5" text-anchor="end" fill="#1a1a1a" class="t">0.2</text>
<path d="M1487.2 819.7H1495.5" stroke="#262626" stroke-width="1.5"/>
<text x="1477" y="826.1" font-size="18.5" text-anchor="end" fill="#1a1a1a" class="t">0.4</text>
<path d="M1487.2 760.5H1495.5" stroke="#262626" stroke-width="1.5"/>
<text x="1477" y="766.9" font-size="18.5" text-anchor="end" fill="#1a1a1a" class="t">0.6</text>
<path d="M1487.2 701.3H1495.5" stroke="#262626" stroke-width="1.5"/>
<text x="1477" y="707.7" font-size="18.5" text-anchor="end" fill="#1a1a1a" class="t">0.8</text>
<path d="M1487.2 642.1H1495.5" stroke="#262626" stroke-width="1.5"/>
<text x="1477" y="648.5" font-size="18.5" text-anchor="end" fill="#1a1a1a" class="t">1.0</text>
<path d="M1487.2 582.9H1495.5" stroke="#262626" stroke-width="1.5"/>
<text x="1477" y="589.3" font-size="18.5" text-anchor="end" fill="#1a1a1a" class="t">1.2</text>
<path d="M1502.6 953V959.2" stroke="#262626" stroke-width="1.5"/>
<text x="1503.1" y="984.5" font-size="18.5" text-anchor="middle" fill="#1a1a1a" class="t">10<tspan font-size="12.3" dy="-6.4">-11</tspan></text>
<path d="M1575.5 953V959.2" stroke="#262626" stroke-width="1.5"/>
<text x="1576" y="984.5" font-size="18.5" text-anchor="middle" fill="#1a1a1a" class="t">10<tspan font-size="12.3" dy="-6.4">-10</tspan></text>
<path d="M1648.4 953V959.2" stroke="#262626" stroke-width="1.5"/>
<text x="1648.9" y="984.5" font-size="18.5" text-anchor="middle" fill="#1a1a1a" class="t">10<tspan font-size="12.3" dy="-6.4">-9</tspan></text>
<path d="M1721.3 953V959.2" stroke="#262626" stroke-width="1.5"/>
<text x="1721.8" y="984.5" font-size="18.5" text-anchor="middle" fill="#1a1a1a" class="t">10<tspan font-size="12.3" dy="-6.4">-8</tspan></text>
<path d="M1794 953V959.2" stroke="#262626" stroke-width="1.5"/>
<text x="1794.5" y="984.5" font-size="18.5" text-anchor="middle" fill="#1a1a1a" class="t">10<tspan font-size="12.3" dy="-6.4">-7</tspan></text>
<path d="M1866.6 953V959.2" stroke="#262626" stroke-width="1.5"/>
<text x="1867.1" y="984.5" font-size="18.5" text-anchor="middle" fill="#1a1a1a" class="t">10<tspan font-size="12.3" dy="-6.4">-6</tspan></text>
<clipPath id="clip7"><rect x="1495.5" y="0" width="420.5" height="953"/></clipPath>
<g clip-path="url(#clip7)">
<path d="M1513.8 626.1V657.4M1507.7 626.1H1519.9M1507.7 657.4H1519.9" stroke="#161616" stroke-width="1.5" fill="none"/>
<path d="M1586.7 660.8V734.2M1580.6 660.8H1592.8M1580.6 734.2H1592.8" stroke="#161616" stroke-width="1.5" fill="none"/>
<path d="M1659.5 685.3V760.7M1653.4 685.3H1665.6M1653.4 760.7H1665.6" stroke="#161616" stroke-width="1.5" fill="none"/>
<path d="M1732.2 668.2V761.8M1726.1 668.2H1738.3M1726.1 761.8H1738.3" stroke="#161616" stroke-width="1.5" fill="none"/>
<path d="M1805.2 752V760M1799.1 752H1811.3M1799.1 760H1811.3" stroke="#161616" stroke-width="1.5" fill="none"/>
<path d="M1877.6 826.5V871.1M1871.5 826.5H1883.7M1871.5 871.1H1883.7" stroke="#161616" stroke-width="1.5" fill="none"/>
<path d="M1513.8 641.6 L1586.7 696.9 L1659.5 722.6 L1732.2 715.2 L1805.2 755.7 L1877.6 848.3" stroke="#111" stroke-width="1.8" fill="none" stroke-linejoin="round"/>
<circle cx="1513.8" cy="641.6" r="7.9" fill="#1c1c1c" stroke="#111" stroke-width="1.4"/>
<circle cx="1586.7" cy="696.9" r="7.9" fill="#1c1c1c" stroke="#111" stroke-width="1.4"/>
<circle cx="1659.5" cy="722.6" r="7.9" fill="#1c1c1c" stroke="#111" stroke-width="1.4"/>
<circle cx="1732.2" cy="715.2" r="7.9" fill="#1c1c1c" stroke="#111" stroke-width="1.4"/>
<circle cx="1805.2" cy="755.7" r="7.9" fill="#1c1c1c" stroke="#111" stroke-width="1.4"/>
<circle cx="1877.6" cy="848.3" r="7.9" fill="#1c1c1c" stroke="#111" stroke-width="1.4"/>
<path d="M1513.8 634V650M1507.7 634H1519.9M1507.7 650H1519.9" stroke="#161616" stroke-width="1.5" fill="none"/>
<path d="M1586.7 591.6V649.7M1580.6 591.6H1592.8M1580.6 649.7H1592.8" stroke="#161616" stroke-width="1.5" fill="none"/>
<path d="M1659.5 608.8V675.2M1653.4 608.8H1665.6M1653.4 675.2H1665.6" stroke="#161616" stroke-width="1.5" fill="none"/>
<path d="M1732.2 595V640.2M1726.1 595H1738.3M1726.1 640.2H1738.3" stroke="#161616" stroke-width="1.5" fill="none"/>
<path d="M1805.2 642.2V750M1799.1 642.2H1811.3M1799.1 750H1811.3" stroke="#161616" stroke-width="1.5" fill="none"/>
<path d="M1877.6 855V871.4M1871.5 855H1883.7M1871.5 871.4H1883.7" stroke="#161616" stroke-width="1.5" fill="none"/>
<path d="M1513.8 641.6 L1586.7 620.6 L1659.5 640.8 L1732.2 617.6 L1805.2 696.1 L1877.6 862.8" stroke="#111" stroke-width="1.8" fill="none" stroke-linejoin="round"/>
<circle cx="1513.8" cy="641.6" r="7.9" fill="#e32b2b" stroke="#111" stroke-width="1.4"/>
<circle cx="1586.7" cy="620.6" r="7.9" fill="#e32b2b" stroke="#111" stroke-width="1.4"/>
<circle cx="1659.5" cy="640.8" r="7.9" fill="#e32b2b" stroke="#111" stroke-width="1.4"/>
<circle cx="1732.2" cy="617.6" r="7.9" fill="#e32b2b" stroke="#111" stroke-width="1.4"/>
<circle cx="1805.2" cy="696.1" r="7.9" fill="#e32b2b" stroke="#111" stroke-width="1.4"/>
<circle cx="1877.6" cy="862.8" r="7.9" fill="#e32b2b" stroke="#111" stroke-width="1.4"/>
<path d="M1513.8 640V643M1507.7 640H1519.9M1507.7 643H1519.9" stroke="#161616" stroke-width="1.5" fill="none"/>
<path d="M1586.7 605.5V670.6M1580.6 605.5H1592.8M1580.6 670.6H1592.8" stroke="#161616" stroke-width="1.5" fill="none"/>
<path d="M1659.5 589.3V629.8M1653.4 589.3H1665.6M1653.4 629.8H1665.6" stroke="#161616" stroke-width="1.5" fill="none"/>
<path d="M1732.2 631.9V648M1726.1 631.9H1738.3M1726.1 648H1738.3" stroke="#161616" stroke-width="1.5" fill="none"/>
<path d="M1805.2 862.6V883.8M1799.1 862.6H1811.3M1799.1 883.8H1811.3" stroke="#161616" stroke-width="1.5" fill="none"/>
<path d="M1877.6 906V915.5M1871.5 906H1883.7M1871.5 915.5H1883.7" stroke="#161616" stroke-width="1.5" fill="none"/>
<path d="M1513.8 641.6 L1586.7 640 L1659.5 609.2 L1732.2 640 L1805.2 873 L1877.6 911" stroke="#111" stroke-width="1.8" fill="none" stroke-linejoin="round"/>
<polygon points="1505.6,637.2 1522,637.2 1513.8,650.4" fill="#5cb946" stroke="#111" stroke-width="1.4" stroke-linejoin="miter"/>
<polygon points="1578.5,635.6 1594.9,635.6 1586.7,648.8" fill="#5cb946" stroke="#111" stroke-width="1.4" stroke-linejoin="miter"/>
<polygon points="1651.3,604.8 1667.7,604.8 1659.5,618" fill="#5cb946" stroke="#111" stroke-width="1.4" stroke-linejoin="miter"/>
<polygon points="1724,635.6 1740.4,635.6 1732.2,648.8" fill="#5cb946" stroke="#111" stroke-width="1.4" stroke-linejoin="miter"/>
<polygon points="1797,868.6 1813.4,868.6 1805.2,881.8" fill="#5cb946" stroke="#111" stroke-width="1.4" stroke-linejoin="miter"/>
<polygon points="1869.4,906.6 1885.8,906.6 1877.6,919.8" fill="#5cb946" stroke="#111" stroke-width="1.4" stroke-linejoin="miter"/>
<path d="M1513.8 640V643M1507.7 640H1519.9M1507.7 643H1519.9" stroke="#161616" stroke-width="1.5" fill="none"/>
<path d="M1586.7 619V660.8M1580.6 619H1592.8M1580.6 660.8H1592.8" stroke="#161616" stroke-width="1.5" fill="none"/>
<path d="M1659.5 621.8V662M1653.4 621.8H1665.6M1653.4 662H1665.6" stroke="#161616" stroke-width="1.5" fill="none"/>
<path d="M1732.2 633.7V704.3M1726.1 633.7H1738.3M1726.1 704.3H1738.3" stroke="#161616" stroke-width="1.5" fill="none"/>
<path d="M1805.2 862.6V883.8M1799.1 862.6H1811.3M1799.1 883.8H1811.3" stroke="#161616" stroke-width="1.5" fill="none"/>
<path d="M1877.6 895.3V906.5M1871.5 895.3H1883.7M1871.5 906.5H1883.7" stroke="#161616" stroke-width="1.5" fill="none"/>
<path d="M1513.8 641.6 L1586.7 640 L1659.5 642 L1732.2 669 L1805.2 874.6 L1877.6 900.9" stroke="#111" stroke-width="1.8" fill="none" stroke-linejoin="round"/>
<polygon points="1505.6,646 1522,646 1513.8,632.8" fill="#f2e22f" stroke="#111" stroke-width="1.4" stroke-linejoin="miter"/>
<polygon points="1578.5,644.4 1594.9,644.4 1586.7,631.2" fill="#f2e22f" stroke="#111" stroke-width="1.4" stroke-linejoin="miter"/>
<polygon points="1651.3,646.4 1667.7,646.4 1659.5,633.2" fill="#f2e22f" stroke="#111" stroke-width="1.4" stroke-linejoin="miter"/>
<polygon points="1724,673.4 1740.4,673.4 1732.2,660.2" fill="#f2e22f" stroke="#111" stroke-width="1.4" stroke-linejoin="miter"/>
<polygon points="1797,879 1813.4,879 1805.2,865.8" fill="#f2e22f" stroke="#111" stroke-width="1.4" stroke-linejoin="miter"/>
<polygon points="1869.4,905.3 1885.8,905.3 1877.6,892.1" fill="#f2e22f" stroke="#111" stroke-width="1.4" stroke-linejoin="miter"/>
</g>
<text transform="translate(1803.9 774.3) scale(1.1 0.96) rotate(90)" y="10.25" font-size="20" font-family="DejaVu Sans" text-anchor="middle" fill="#1a1a1a" stroke="#1a1a1a" stroke-width="0.35">*</text>
<text transform="translate(1806.6 850.1) scale(1.1 0.96) rotate(90)" y="10.25" font-size="20" font-family="DejaVu Sans" text-anchor="middle" fill="#1a1a1a" stroke="#1a1a1a" stroke-width="0.35">*</text>
<text transform="translate(1805.5 896.4) scale(1.1 0.96) rotate(90)" y="10.25" font-size="20" font-family="DejaVu Sans" text-anchor="middle" fill="#1a1a1a" stroke="#1a1a1a" stroke-width="0.35">*</text>
<text transform="translate(1875 818.3) scale(1.1 0.96) rotate(90)" y="10.25" font-size="20" font-family="DejaVu Sans" text-anchor="middle" fill="#1a1a1a" stroke="#1a1a1a" stroke-width="0.35">*</text>
<text transform="translate(1892.2 864.7) scale(1.1 0.96) rotate(90)" y="10.25" font-size="20" font-family="DejaVu Sans" text-anchor="middle" fill="#1a1a1a" stroke="#1a1a1a" stroke-width="0.35">*</text>
<text transform="translate(1892.2 900.6) scale(1.1 0.96) rotate(90)" y="10.25" font-size="20" font-family="DejaVu Sans" text-anchor="middle" fill="#1a1a1a" stroke="#1a1a1a" stroke-width="0.35">*</text>
<text transform="translate(1877.7 930.2) scale(1.1 0.96) rotate(90)" y="10.25" font-size="20" font-family="DejaVu Sans" text-anchor="middle" fill="#1a1a1a" stroke="#1a1a1a" stroke-width="0.35">*</text>
<text transform="translate(18.6 266.2) rotate(-90)" font-size="22" font-weight="bold" text-anchor="middle" fill="#111">Cell survival</text>
<text transform="translate(22.3 731) rotate(-90)" font-size="22" font-weight="bold" text-anchor="middle" fill="#111">ATP content</text>
<path d="M120.6 351.6H170.7" stroke="#111" stroke-width="2"/>
<circle cx="145.5" cy="351.6" r="7.9" fill="#1c1c1c" stroke="#111" stroke-width="1.4"/>
<text x="182.5" y="359.4" font-size="21.5" fill="#111" class="t">B16F1</text>
<path d="M120.6 376.4H170.7" stroke="#111" stroke-width="2"/>
<circle cx="145.5" cy="376.4" r="7.9" fill="#e32b2b" stroke="#111" stroke-width="1.4"/>
<text x="182.5" y="384.2" font-size="21.5" fill="#111" class="t">FaDu</text>
<path d="M120.6 401.2H170.7" stroke="#111" stroke-width="2"/>
<polygon points="137.3,396.8 153.7,396.8 145.5,410" fill="#5cb946" stroke="#111" stroke-width="1.4" stroke-linejoin="miter"/>
<text x="182.5" y="409" font-size="21.5" fill="#111" class="t">HUVEC</text>
<path d="M120.6 425.9H170.7" stroke="#111" stroke-width="2"/>
<polygon points="137.3,430.3 153.7,430.3 145.5,417.1" fill="#f2e22f" stroke="#111" stroke-width="1.4" stroke-linejoin="miter"/>
<text x="182.5" y="433.7" font-size="21.5" fill="#111" class="t">CHO</text>
<text x="223.8" y="1024.2" font-size="23" fill="#111" class="t">CaCl<tspan font-size="15.5">2</tspan> (mol/l)</text>
<text x="762.3" y="1024.2" font-size="23" text-anchor="middle" fill="#111" class="t">bleomycin (mol/l)</text>
<text x="1159.8" y="1024.2" font-size="23" fill="#111" class="t">CaCl<tspan font-size="15" dy="6.5">2</tspan><tspan dy="-6.5"> (mol/l)</tspan></text>
<text x="1696" y="1024.2" font-size="23" text-anchor="middle" fill="#111" class="t">bleomycin (mol/l)</text>
</svg></body></html>
